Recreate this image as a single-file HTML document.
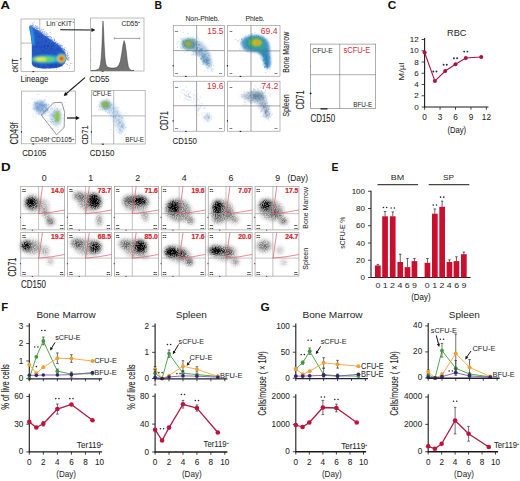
<!DOCTYPE html>
<html><head><meta charset="utf-8"><style>
html,body{margin:0;padding:0;background:#fff;width:520px;height:481px;overflow:hidden}
svg{display:block}
text{font-family:"Liberation Sans", sans-serif}
</style></head><body>
<svg width="520" height="481" viewBox="0 0 520 481">
<rect width="520" height="481" fill="#fff"/>
<defs>
<filter id="b03" x="-50%" y="-50%" width="200%" height="200%"><feGaussianBlur stdDeviation="0.3"/></filter>
<filter id="b05" x="-50%" y="-50%" width="200%" height="200%"><feGaussianBlur stdDeviation="0.5"/></filter>
<filter id="b08" x="-50%" y="-50%" width="200%" height="200%"><feGaussianBlur stdDeviation="0.8"/></filter>
<filter id="b1" x="-50%" y="-50%" width="200%" height="200%"><feGaussianBlur stdDeviation="1.0"/></filter>
<filter id="b15" x="-50%" y="-50%" width="200%" height="200%"><feGaussianBlur stdDeviation="1.5"/></filter>
<filter id="b2" x="-50%" y="-50%" width="200%" height="200%"><feGaussianBlur stdDeviation="2.0"/></filter>
<filter id="b3" x="-50%" y="-50%" width="200%" height="200%"><feGaussianBlur stdDeviation="3.0"/></filter>
<filter id="grain" x="0" y="0" width="520" height="481" filterUnits="userSpaceOnUse" color-interpolation-filters="sRGB">
 <feGaussianBlur in="SourceGraphic" stdDeviation="2.0" result="bl"/>
 <feTurbulence type="fractalNoise" baseFrequency="0.9" numOctaves="2" seed="4" result="n"/>
 <feColorMatrix in="n" type="matrix" values="0 0 0 0 0  0 0 0 0 0  0 0 0 0 0  2.0 0 0 0 -0.5" result="na"/>
 <feComposite in="bl" in2="na" operator="arithmetic" k1="1.0" k2="0.62" k3="0" k4="0"/>
</filter>
</defs>
<text x="0.43" y="9.30" font-size="11.12" fill="#111" textLength="9.53" lengthAdjust="spacingAndGlyphs" font-weight="bold" stroke="#111" stroke-width="0.05" >A</text>
<rect x="21.00" y="19.00" width="53.50" height="52.50" fill="none" stroke="#a0a0a0" stroke-width="0.7"/>
<line x1="39.80" y1="19.00" x2="39.80" y2="43.10" stroke="#8a8a8a" stroke-width="0.6" />
<line x1="21.00" y1="43.10" x2="32.00" y2="43.10" stroke="#8a8a8a" stroke-width="0.6" />
<clipPath id="a1c"><polygon points="29.7,25.4 33,27.4 36,29.3 38.5,30.6 43,34.3 47,37 50.8,39.7 55,42.5 58,44.6 61,47.5 63.5,50.5 65.3,53.6 66.3,57 66,60.5 64.5,63.5 62,66 58,67.8 50,68.6 42,68.4 36,67.4 33,66 31.8,64 31.8,44.3 30.6,35 29.2,28"/></clipPath>
<g filter="url(#b03)">
<polygon points="29.7,25.4 33,27.4 36,29.3 38.5,30.6 43,34.3 47,37 50.8,39.7 55,42.5 58,44.6 61,47.5 63.5,50.5 65.3,53.6 66.3,57 66,60.5 64.5,63.5 62,66 58,67.8 50,68.6 42,68.4 36,67.4 33,66 31.8,64 31.8,44.3 30.6,35 29.2,28" fill="#2758c8"/>
</g>
<path d="M30.0 26.7h0M31.7 26.7h0M32.0 26.2h0M32.7 26.7h0M30.9 25.3h0M33.8 22.2h0M31.6 28.5h0M30.5 25.2h0M32.5 25.4h0M31.7 27.7h0M33.2 24.6h0M32.3 25.5h0M32.3 23.4h0M31.7 25.6h0M33.1 25.2h0M32.1 28.3h0M31.4 25.5h0M32.2 28.2h0M33.1 26.4h0M34.0 27.2h0M35.1 30.5h0M34.5 27.1h0M34.2 28.9h0M35.4 27.5h0M35.8 26.8h0M35.3 29.9h0M36.8 27.0h0M33.6 27.6h0M37.3 26.3h0M34.5 28.8h0M35.6 28.0h0M36.3 26.1h0M35.4 25.6h0M36.7 28.1h0M33.7 26.9h0M32.9 28.6h0M37.0 29.1h0M34.9 31.6h0M38.7 27.9h0M37.3 28.9h0M39.1 28.7h0M38.5 30.5h0M37.7 27.9h0M36.6 28.3h0M35.9 30.7h0M37.0 28.3h0M36.6 28.4h0M38.1 31.1h0M37.9 31.2h0M37.9 28.8h0M40.6 33.9h0M40.8 33.4h0M42.0 35.0h0M41.9 33.1h0M39.0 32.2h0M43.4 29.5h0M42.1 31.3h0M41.4 32.4h0M37.8 31.6h0M38.1 31.6h0M40.2 34.3h0M40.6 31.3h0M41.9 33.0h0M38.8 30.8h0M42.4 32.1h0M40.6 32.2h0M41.0 33.0h0M40.9 30.6h0M39.7 32.5h0M40.0 32.3h0M43.3 31.8h0M42.2 32.9h0M40.4 31.2h0M41.3 29.3h0M38.3 32.6h0M39.7 30.1h0M39.3 32.6h0M42.1 30.2h0M42.9 33.1h0M46.4 34.9h0M46.2 37.2h0M43.8 34.1h0M45.8 34.7h0M47.8 34.4h0M43.6 34.9h0M47.1 33.7h0M46.2 36.6h0M44.7 34.3h0M46.2 36.3h0M45.6 34.1h0M43.4 37.4h0M44.7 33.1h0M44.7 31.8h0M46.6 37.5h0M46.6 32.7h0M43.5 35.5h0M46.7 35.2h0M44.3 36.9h0M44.0 35.3h0M43.9 33.5h0M45.2 36.1h0M44.7 32.1h0M46.2 37.4h0M48.9 41.6h0M50.5 39.3h0M49.9 38.9h0M47.5 37.7h0M50.3 36.6h0M49.8 36.4h0M48.1 38.3h0M48.7 36.6h0M49.4 39.9h0M48.8 37.2h0M51.2 37.6h0M48.3 36.6h0M48.5 41.4h0M51.4 37.4h0M50.5 39.0h0M47.3 37.0h0M49.8 37.3h0M47.4 39.8h0M47.4 36.4h0M47.7 36.5h0M47.7 36.5h0M51.1 39.1h0M48.8 38.5h0M52.0 40.8h0M54.3 40.3h0M53.1 41.6h0M52.7 39.8h0M50.3 41.5h0M52.1 41.1h0M51.6 39.2h0M54.2 40.1h0M53.2 43.2h0M54.5 39.8h0M52.1 41.6h0M54.6 40.4h0M52.4 41.1h0M51.2 41.4h0M53.1 41.1h0M52.5 41.1h0M54.1 38.7h0M51.3 42.4h0M54.9 41.7h0M52.3 41.6h0M51.9 39.1h0M53.6 43.5h0M53.7 42.6h0M52.2 42.7h0M51.3 39.8h0M55.6 42.6h0M57.8 43.4h0M55.6 42.3h0M57.9 44.0h0M57.9 43.8h0M56.2 41.6h0M56.7 45.4h0M56.8 46.1h0M54.6 43.3h0M56.2 45.7h0M55.4 42.6h0M57.7 43.5h0M56.0 43.1h0M57.1 43.0h0M55.2 43.4h0M54.9 44.2h0M55.5 44.4h0M55.7 43.9h0M60.0 45.0h0M55.8 47.3h0M59.4 45.6h0M61.2 45.7h0M61.7 45.3h0M59.1 47.5h0M60.0 46.4h0M61.2 46.7h0M60.8 46.2h0M59.9 48.1h0M60.3 46.6h0M58.7 45.0h0M60.6 45.4h0M59.3 45.1h0M62.6 45.6h0M58.8 45.5h0M59.8 47.9h0M59.9 46.2h0M59.0 43.8h0M59.2 46.2h0M62.6 48.0h0M62.1 48.2h0M63.1 50.8h0M61.4 49.6h0M62.6 50.4h0M62.1 50.7h0M62.6 49.8h0M62.0 51.1h0M64.7 49.3h0M62.5 48.6h0M63.8 48.8h0M65.0 47.6h0M61.3 48.5h0M61.7 47.9h0M63.7 48.8h0M64.0 49.3h0M62.9 50.3h0M60.5 49.5h0M62.3 46.9h0M64.4 50.3h0M63.5 52.0h0M64.7 52.2h0M64.2 51.5h0M63.7 52.2h0M64.9 52.1h0M64.3 54.0h0M64.9 50.2h0M64.0 51.4h0M64.8 53.4h0M67.8 51.8h0M66.1 50.6h0M65.2 52.7h0M64.0 53.0h0M65.3 52.2h0M64.2 53.2h0M64.8 53.7h0M64.2 54.3h0M64.8 55.6h0M68.0 55.3h0M67.0 55.2h0M68.0 55.1h0M67.3 53.7h0M64.5 54.3h0M67.3 56.5h0M67.2 55.7h0M64.4 56.1h0M65.4 55.3h0M66.1 54.5h0M66.8 55.8h0M64.2 56.7h0M65.4 54.9h0M63.8 55.0h0M67.5 53.1h0M66.5 58.8h0M68.9 58.5h0M65.1 58.1h0M67.4 59.8h0M66.9 58.3h0M66.0 57.9h0M68.4 57.5h0M68.0 59.7h0M67.1 57.7h0M67.7 59.7h0M66.3 59.9h0M64.7 57.4h0M67.1 58.5h0M68.0 59.2h0M66.5 57.7h0M69.0 57.3h0M69.0 60.1h0" stroke="#3f70d0" stroke-opacity="0.5" stroke-width="0.9" stroke-linecap="square" fill="none"/>
<path d="M40.2 64.8h0M58.0 62.9h0M39.4 63.9h0M53.8 66.4h0M40.3 61.2h0M55.6 65.0h0M62.3 66.2h0M49.2 63.4h0M70.6 63.4h0M43.7 61.5h0M50.8 64.3h0M47.2 63.9h0M52.2 65.5h0M58.8 64.5h0M35.7 65.5h0M38.6 63.6h0M38.2 64.0h0M43.8 64.5h0M56.7 61.1h0M47.7 65.5h0M49.3 64.8h0M50.8 61.8h0M54.5 62.2h0M65.0 62.9h0M55.5 64.0h0M57.6 62.7h0M58.0 63.7h0M60.1 65.4h0M51.1 62.3h0M56.1 65.0h0M63.1 63.2h0M54.4 65.1h0M52.3 64.5h0M51.5 62.7h0M41.9 63.1h0M54.7 67.3h0M57.8 66.3h0M56.2 65.5h0M51.5 65.7h0M64.2 63.3h0M44.4 68.3h0M52.0 66.1h0M57.0 61.5h0M69.5 67.9h0M51.4 65.7h0M51.0 62.1h0M49.1 64.8h0M58.9 65.6h0M50.5 67.0h0M43.9 65.7h0M58.9 63.4h0M35.7 62.0h0M51.9 65.2h0M62.4 61.8h0M50.0 65.4h0M48.7 58.8h0M56.5 69.1h0M58.0 62.0h0M46.7 64.5h0M69.9 65.4h0M50.9 67.4h0M49.3 68.1h0M44.5 63.0h0M55.8 67.1h0M55.2 64.7h0M35.4 62.4h0M45.1 62.8h0M54.7 63.3h0M56.3 64.2h0M47.3 64.3h0M53.4 65.9h0M46.2 63.5h0M39.1 67.5h0M61.6 63.6h0M46.2 61.3h0M51.4 64.5h0M67.5 64.5h0M43.8 58.6h0M61.3 64.4h0M37.1 64.4h0M59.0 65.3h0M48.6 59.3h0M49.0 60.6h0M54.8 59.3h0M42.7 66.7h0M63.2 61.4h0M37.7 65.9h0M56.8 61.8h0M44.4 62.5h0M40.5 62.5h0M60.0 65.5h0M66.5 63.8h0M48.9 61.8h0M49.0 61.1h0M35.8 65.5h0M61.5 65.8h0M60.7 64.6h0M44.3 64.2h0M47.0 61.6h0M36.5 60.7h0M50.0 64.3h0M46.2 67.1h0M51.4 65.3h0M59.7 62.2h0M34.2 65.7h0M44.5 66.9h0M52.7 66.2h0M56.1 59.4h0M55.8 62.5h0M44.0 63.0h0M56.1 65.9h0M58.1 60.3h0M45.3 58.8h0M49.2 65.3h0M43.9 64.5h0M51.9 66.2h0M43.4 62.2h0M43.9 67.9h0M58.7 63.7h0M51.8 64.3h0M51.6 63.5h0M47.3 61.2h0M44.9 67.6h0M54.3 64.1h0M48.3 64.1h0M52.8 62.6h0M51.6 64.5h0M44.0 62.3h0M42.0 61.7h0M57.1 58.8h0M47.9 62.7h0M45.0 64.2h0M59.0 64.2h0M48.9 62.7h0M49.0 66.0h0M46.8 61.5h0M39.9 61.6h0M38.9 66.4h0M52.8 63.5h0M61.7 62.6h0M56.0 65.8h0M37.6 60.6h0M42.6 66.0h0M60.4 61.3h0M58.4 63.2h0M46.9 62.8h0M47.4 60.0h0M42.0 61.3h0M53.9 68.6h0M71.9 63.3h0M36.2 63.1h0M42.5 68.4h0M54.6 62.4h0M57.5 65.2h0M37.0 62.8h0M48.1 64.0h0M51.1 63.3h0M51.5 62.7h0M37.5 57.1h0M43.8 50.6h0M34.0 47.0h0M46.1 40.3h0M47.5 45.7h0M44.0 47.2h0M43.1 55.2h0M40.0 57.4h0M38.1 42.4h0M45.6 41.6h0M40.1 53.4h0M48.1 37.4h0M44.5 59.3h0M48.0 46.6h0M39.0 46.2h0M36.2 46.4h0M41.1 47.1h0M47.9 46.6h0M34.7 54.3h0M36.6 45.3h0M41.3 45.9h0M37.0 46.5h0M52.9 44.4h0M41.3 54.7h0M45.7 52.6h0M46.3 36.2h0M37.7 48.8h0M44.5 55.8h0M44.3 46.6h0M42.2 46.7h0M43.2 52.0h0M40.3 43.1h0M37.7 54.6h0M48.4 54.0h0M46.3 53.0h0M42.0 52.0h0M36.7 46.8h0M38.3 52.4h0M39.1 47.4h0M44.0 56.1h0M38.0 42.4h0M46.1 41.4h0M44.3 44.6h0M41.5 37.1h0M45.6 45.0h0M37.5 60.5h0M45.6 69.1h0M44.0 45.9h0M42.5 57.6h0M41.9 50.7h0M44.6 42.5h0M42.6 45.0h0M35.8 53.2h0M45.3 48.4h0M37.5 36.0h0M44.4 47.4h0M33.6 47.6h0M34.4 47.8h0M42.7 50.1h0M43.1 49.0h0M36.3 45.7h0M39.4 46.6h0M43.4 51.7h0M50.2 32.6h0M44.0 46.8h0M53.4 53.6h0M33.7 50.4h0M39.4 54.0h0M36.7 47.4h0M41.3 47.4h0M39.1 37.0h0M44.3 54.0h0M41.7 41.9h0M43.0 51.4h0M41.1 47.9h0M49.0 41.3h0M39.2 36.6h0M38.5 43.6h0M37.2 43.8h0M51.0 46.8h0M51.4 58.8h0M51.7 43.1h0M54.0 46.3h0M60.2 45.0h0M49.1 43.6h0M52.5 45.9h0M51.7 48.5h0M48.9 53.8h0M56.7 50.2h0M47.5 45.7h0M53.3 59.6h0M49.7 46.9h0M48.5 45.6h0M47.1 49.2h0M59.2 50.0h0M49.4 43.5h0M53.1 49.9h0M45.9 45.7h0M51.8 54.0h0M55.1 50.8h0M50.4 51.3h0M51.9 58.7h0M46.3 48.5h0M58.3 48.9h0M59.1 49.8h0M52.7 48.5h0M45.1 46.1h0M63.1 52.6h0M55.0 53.8h0M54.8 54.1h0M50.7 49.1h0M56.9 48.6h0M45.3 49.1h0M49.3 52.5h0M48.4 45.8h0M50.3 56.2h0M51.8 50.6h0M52.0 51.2h0M56.6 55.6h0M43.8 55.4h0M52.0 48.7h0M64.0 49.3h0M61.7 53.9h0M46.9 52.0h0M55.7 49.5h0M40.4 48.6h0M51.0 45.6h0M61.1 49.0h0M50.0 48.8h0M48.1 46.9h0M52.5 51.3h0M49.5 49.6h0M45.0 52.1h0M48.3 50.9h0M47.5 47.9h0M53.1 45.2h0M64.3 49.9h0M51.6 47.1h0M60.0 55.5h0M53.5 44.5h0" stroke="#1a3890" stroke-opacity="0.35" stroke-width="0.9" stroke-linecap="square" fill="none"/>
<g clip-path="url(#a1c)"><g filter="url(#b1)">
<polygon points="29.7,25.4 32,27 33.8,36 34.4,45 32,45 30.8,35" fill="#2aa8e2"/>
<ellipse cx="46.00" cy="59.20" rx="15.00" ry="4.20" fill="#22b2e2" fill-opacity="1"/>
<ellipse cx="43.50" cy="59.20" rx="11.50" ry="2.80" fill="#74d24e" fill-opacity="1"/>
<ellipse cx="41.00" cy="59.20" rx="5.50" ry="1.70" fill="#f4f030" fill-opacity="1"/>
<ellipse cx="61.50" cy="58.60" rx="5.20" ry="5.00" fill="#3cc4c4" fill-opacity="1"/>
<ellipse cx="61.50" cy="58.60" rx="3.80" ry="3.70" fill="#e8e41e" fill-opacity="1"/>
<ellipse cx="61.50" cy="58.60" rx="2.80" ry="2.80" fill="#f08a10" fill-opacity="1"/>
<ellipse cx="61.50" cy="58.60" rx="1.80" ry="1.80" fill="#e01010" fill-opacity="1"/>
</g></g>
<line x1="20.80" y1="58.20" x2="20.80" y2="59.60" stroke="#111" stroke-width="1.0" />
<line x1="32.50" y1="71.70" x2="34.20" y2="71.70" stroke="#111" stroke-width="1.0" />
<text x="46.17" y="25.50" font-size="7.19" fill="#1e1e1e" textLength="28.26" lengthAdjust="spacingAndGlyphs" stroke="#1e1e1e" stroke-width="0.00" >Lin<tspan font-size="4" dy="-2.6">−</tspan><tspan dy="2.6">cKIT</tspan><tspan font-size="4" dy="-2.6">+</tspan></text>
<line x1="60.20" y1="29.70" x2="92.00" y2="29.97" stroke="#111" stroke-width="1.1" />
<polygon points="95.30,30.00 91.48,31.97 91.52,27.97" fill="#111"/>
<line x1="101.60" y1="71.30" x2="103.60" y2="71.30" stroke="#111" stroke-width="1.0" />
<text x="17.90" y="72.50" font-size="9.96" fill="#1e1e1e" textLength="13.99" lengthAdjust="spacingAndGlyphs" transform="rotate(-90 17.90 72.50)" stroke="#1e1e1e" stroke-width="0.13">cKIT</text>
<text x="20.54" y="81.50" font-size="9.38" fill="#1e1e1e" textLength="27.82" lengthAdjust="spacingAndGlyphs" stroke="#1e1e1e" stroke-width="0.07" >Lineage</text>
<rect x="90.50" y="18.00" width="53.50" height="53.00" fill="none" stroke="#a0a0a0" stroke-width="0.7"/>
<polygon points="91,70.6 95,70.4 98,69.6 99.5,68 100.5,64 101.3,57 102,45 102.5,30 103,21 103.6,30 104.2,45 104.9,57 105.6,63 106.5,66 108,67.3 111,68 114,68 116.5,67.4 118.5,65.8 120.3,61.5 121.7,54 123,45 124.1,40.6 125.2,44 126.3,52 127.3,61 128.3,66.5 129.5,69.2 131.5,70.4 134,70.6" fill="#727272" stroke="#3a3a3a" stroke-width="0.5"/>
<line x1="90.50" y1="30.50" x2="91.60" y2="30.50" stroke="#999" stroke-width="0.5" />
<line x1="90.50" y1="38.50" x2="91.60" y2="38.50" stroke="#999" stroke-width="0.5" />
<line x1="90.50" y1="49.00" x2="91.60" y2="49.00" stroke="#999" stroke-width="0.5" />
<line x1="90.50" y1="60.00" x2="91.60" y2="60.00" stroke="#999" stroke-width="0.5" />
<line x1="114.20" y1="38.40" x2="139.70" y2="38.40" stroke="#777" stroke-width="0.7" />
<line x1="114.20" y1="37.30" x2="114.20" y2="39.50" stroke="#777" stroke-width="0.6" />
<line x1="139.70" y1="37.30" x2="139.70" y2="39.50" stroke="#777" stroke-width="0.6" />
<text x="121.57" y="25.70" font-size="7.19" fill="#1e1e1e" textLength="18.56" lengthAdjust="spacingAndGlyphs" stroke="#1e1e1e" stroke-width="0.04" >CD55<tspan font-size="4" dy="-2.6">+</tspan></text>
<text x="89.25" y="81.60" font-size="9.08" fill="#1e1e1e" textLength="20.29" lengthAdjust="spacingAndGlyphs" stroke="#1e1e1e" stroke-width="0.05" >CD55</text>
<line x1="85.00" y1="77.60" x2="66.11" y2="93.76" stroke="#111" stroke-width="1.1" />
<polygon points="63.60,95.90 65.19,91.91 67.79,94.95" fill="#111"/>
<rect x="21.60" y="91.10" width="53.90" height="52.70" fill="none" stroke="#a0a0a0" stroke-width="0.7"/>
<g filter="url(#b15)">
<ellipse cx="41.00" cy="107.50" rx="8.00" ry="6.50" fill="#8ab0da" fill-opacity="0.7" transform="rotate(30 41.00 107.50)"/>
<ellipse cx="40.00" cy="106.00" rx="4.50" ry="4.00" fill="#6a98d0" fill-opacity="0.5"/>
<ellipse cx="56.00" cy="117.00" rx="6.00" ry="9.00" fill="#98bce0" fill-opacity="0.5"/>
</g>
<path d="M37.6 108.4h0M41.2 102.1h0M37.4 101.9h0M42.4 105.3h0M35.5 117.2h0M50.8 108.3h0M42.3 108.7h0M38.3 110.8h0M40.2 105.5h0M39.6 106.2h0M45.0 113.4h0M36.1 102.6h0M35.9 108.3h0M40.2 111.1h0M44.5 100.7h0M42.5 109.4h0M45.8 104.3h0M42.7 105.3h0M37.3 107.0h0M44.3 105.3h0M38.5 94.6h0M36.3 109.9h0M45.3 99.6h0M36.4 106.8h0M45.9 115.7h0M42.2 109.1h0M37.3 103.3h0M41.1 104.0h0M42.1 106.3h0M39.6 113.3h0M43.4 110.8h0M43.0 101.6h0M39.4 109.1h0M34.1 109.3h0M38.8 108.0h0M42.1 102.3h0M52.3 108.6h0M46.1 107.9h0M43.8 105.4h0M37.4 109.6h0M51.1 109.4h0M39.1 110.8h0M36.8 108.4h0M36.4 107.6h0M40.5 112.8h0M45.0 104.3h0M46.1 105.3h0M41.2 114.6h0M44.7 107.1h0M45.8 111.1h0M36.3 103.2h0M47.8 110.0h0M42.2 106.6h0M34.7 101.5h0M42.1 109.1h0M44.5 99.7h0M44.9 113.0h0M42.8 114.6h0M40.3 104.3h0M39.0 114.1h0M34.2 102.5h0M36.8 107.6h0M47.9 110.1h0M35.5 104.6h0M42.9 101.4h0M45.9 107.9h0M46.6 104.7h0M48.6 105.2h0M49.2 103.9h0M47.7 109.7h0M34.7 102.8h0M44.4 104.9h0M38.3 107.2h0M46.4 96.5h0M38.3 107.9h0M40.3 111.7h0M32.9 114.6h0M43.8 110.6h0M43.8 113.5h0M42.7 105.6h0M44.6 111.5h0M35.0 98.9h0M42.8 109.0h0M40.9 110.4h0M38.5 113.3h0M39.2 104.6h0M40.9 110.9h0M41.4 114.6h0M36.6 110.4h0M45.1 105.1h0M36.2 114.4h0M45.3 107.8h0M32.1 99.0h0M37.8 106.0h0M49.5 115.9h0M44.2 105.0h0M36.3 103.8h0M33.0 116.7h0M40.5 104.4h0M45.7 110.6h0M33.1 108.9h0M42.3 102.1h0M41.4 110.0h0M38.1 109.1h0M46.3 106.5h0M36.9 94.1h0M38.0 111.4h0M42.6 114.8h0M49.0 112.2h0M48.6 104.8h0M43.2 110.6h0M41.5 105.7h0M35.9 105.2h0M47.3 109.4h0M44.6 106.5h0M44.1 104.6h0M43.1 107.7h0M43.6 106.2h0M36.6 103.4h0M42.3 115.6h0M38.0 109.5h0M43.5 110.8h0M33.6 104.7h0M34.4 109.2h0M43.2 111.6h0M28.8 103.3h0M46.6 104.8h0M45.0 110.2h0M41.6 104.6h0M37.5 103.5h0M54.0 115.9h0M43.2 105.8h0M39.4 104.0h0M35.4 108.3h0M38.1 109.8h0M34.1 107.8h0M39.5 109.7h0M42.3 104.2h0M47.1 109.0h0M42.1 104.1h0M42.7 106.7h0M41.5 109.4h0M40.8 100.9h0M41.0 111.8h0M46.3 105.3h0M42.9 110.3h0M41.4 109.7h0M39.2 107.4h0M46.0 108.1h0M35.0 103.5h0M55.8 104.9h0M52.3 119.5h0M54.4 116.6h0M50.0 121.4h0M62.0 114.8h0M52.1 109.1h0M58.6 116.6h0M51.8 123.3h0M58.1 119.6h0M48.0 115.4h0M57.5 108.7h0M58.7 124.6h0M59.1 111.7h0M52.2 121.7h0M59.0 123.4h0M59.8 115.4h0M53.4 104.9h0M58.1 129.7h0M53.1 113.1h0M57.6 118.2h0M49.5 111.7h0M50.6 128.1h0M52.1 121.1h0M62.7 127.4h0M60.7 125.8h0M50.1 113.9h0M52.1 114.3h0M65.5 105.9h0M57.2 108.6h0M60.4 123.8h0M53.0 128.4h0M55.3 123.8h0M56.2 112.6h0M53.5 115.3h0M57.5 116.8h0M64.4 114.8h0M53.1 111.7h0M51.9 107.4h0M51.1 121.4h0M55.2 115.0h0M56.4 122.4h0M57.5 120.6h0M52.8 114.4h0M51.9 115.4h0M51.7 113.8h0M54.3 114.7h0M53.9 113.0h0M60.2 113.9h0M51.0 117.2h0M50.6 109.6h0M55.3 106.0h0M42.1 117.7h0M59.1 106.0h0M51.4 119.5h0M47.1 110.8h0M50.2 114.8h0M47.1 121.4h0M54.4 117.8h0M53.7 103.3h0M54.4 108.0h0M55.0 110.9h0M53.7 114.7h0M58.1 120.6h0M51.0 115.9h0M60.8 119.0h0M52.1 115.3h0M53.6 121.6h0M55.1 118.3h0M63.8 107.7h0M50.9 105.6h0M48.6 121.1h0M56.2 125.8h0M47.1 110.7h0M60.8 122.2h0M58.5 121.2h0M55.1 115.9h0M55.1 121.1h0M54.3 117.9h0M60.8 109.2h0M52.0 119.4h0M53.9 115.1h0M63.4 118.5h0M53.3 122.6h0M65.1 109.3h0M52.3 116.7h0M52.5 129.0h0M57.1 113.6h0M57.0 111.2h0M52.6 116.6h0M64.6 102.5h0M56.7 124.1h0M58.0 127.5h0M56.8 116.9h0M54.5 110.9h0M61.5 108.9h0M54.5 112.9h0M51.9 102.7h0M53.5 116.8h0M55.6 121.1h0M54.4 112.2h0M56.2 120.0h0M51.4 106.9h0M50.9 122.3h0M59.0 110.7h0M55.4 121.0h0M60.3 112.0h0M54.0 124.5h0M64.6 125.2h0M50.4 118.7h0M53.8 115.6h0" stroke="#5a88c4" stroke-opacity="0.32" stroke-width="0.8" stroke-linecap="square" fill="none"/>
<g filter="url(#b08)">
<ellipse cx="57.30" cy="116.60" rx="2.80" ry="5.80" fill="#70b060" fill-opacity="0.7"/>
<ellipse cx="57.30" cy="116.60" rx="2.20" ry="4.80" fill="#80bc40" fill-opacity="0.9"/>
<ellipse cx="57.50" cy="116.00" rx="1.10" ry="3.00" fill="#a8cc30" fill-opacity="0.85"/>
</g>
<polygon points="41.3,115.1 53.7,102.7 61.7,102.3 64.6,112.2 64.1,127.5 56.6,134.8" fill="none" stroke="#555" stroke-width="0.6"/>
<text x="30.19" y="142.30" font-size="6.90" fill="#1e1e1e" textLength="44.03" lengthAdjust="spacingAndGlyphs" stroke="#1e1e1e" stroke-width="0.01" >CD49f<tspan font-size="4" dy="-2.6">−</tspan><tspan dy="2.6">CD105</tspan><tspan font-size="4" dy="-2.6">+</tspan></text>
<text x="18.40" y="144.42" font-size="10.39" fill="#1e1e1e" textLength="22.05" lengthAdjust="spacingAndGlyphs" transform="rotate(-90 18.40 144.42)" stroke="#1e1e1e" stroke-width="0.10">CD49f</text>
<text x="22.21" y="156.20" font-size="9.81" fill="#1e1e1e" textLength="24.18" lengthAdjust="spacingAndGlyphs" stroke="#1e1e1e" stroke-width="0.08" >CD105</text>
<line x1="67.00" y1="118.00" x2="76.50" y2="118.00" stroke="#111" stroke-width="1.2" />
<polygon points="79.80,118.00 76.00,120.00 76.00,116.00" fill="#111"/>
<line x1="21.40" y1="131.20" x2="21.40" y2="132.60" stroke="#111" stroke-width="1.0" />
<line x1="32.40" y1="144.00" x2="34.20" y2="144.00" stroke="#111" stroke-width="1.0" />
<rect x="91.60" y="90.60" width="53.60" height="53.40" fill="none" stroke="#a0a0a0" stroke-width="0.7"/>
<line x1="113.70" y1="90.60" x2="113.70" y2="144.00" stroke="#8a8a8a" stroke-width="0.6" />
<line x1="91.60" y1="115.90" x2="145.20" y2="115.90" stroke="#8a8a8a" stroke-width="0.6" />
<g filter="url(#b15)">
<ellipse cx="106.00" cy="105.00" rx="6.00" ry="5.00" fill="#8ab0da" fill-opacity="0.6"/>
<polygon points="104,100 114,104 123,116 126,128 121,134 116,128 110,114 102,108" fill="#a0c0e0" fill-opacity="0.45"/>
</g>
<path d="M103.3 103.3h0M106.0 111.3h0M108.8 106.5h0M106.1 102.4h0M105.1 109.3h0M109.3 111.9h0M107.0 104.9h0M99.5 106.4h0M99.1 110.3h0M103.5 105.0h0M100.6 103.3h0M102.3 109.0h0M107.0 100.9h0M98.3 104.8h0M104.1 101.1h0M108.4 104.4h0M106.4 102.9h0M103.7 103.4h0M99.6 107.2h0M107.6 99.0h0M106.4 109.0h0M106.9 109.5h0M104.9 105.0h0M100.8 101.8h0M98.7 101.9h0M107.0 106.8h0M110.7 105.5h0M102.0 106.5h0M105.4 111.2h0M113.8 108.4h0M101.5 103.2h0M106.8 102.5h0M108.1 107.4h0M109.4 105.8h0M102.5 102.1h0M105.5 109.6h0M112.3 108.4h0M107.5 107.4h0M109.3 109.5h0M109.4 99.6h0M109.8 106.3h0M104.2 106.8h0M107.2 104.8h0M99.2 105.4h0M108.2 104.8h0M99.6 106.6h0M108.9 105.6h0M107.7 103.8h0M103.4 106.8h0M104.6 105.6h0M119.0 107.5h0M106.5 99.3h0M106.4 107.7h0M103.2 104.2h0M97.0 106.9h0M103.6 107.4h0M111.5 104.4h0M109.9 105.9h0M105.2 104.0h0M102.6 109.5h0M109.5 101.5h0M109.4 102.4h0M100.0 109.2h0M100.9 109.1h0M106.8 108.2h0M108.0 109.0h0M107.4 107.0h0M107.0 108.8h0M104.4 108.6h0M112.0 104.8h0M107.8 103.2h0M104.8 105.9h0M104.6 101.9h0M105.9 105.7h0M107.3 107.5h0M98.9 109.9h0M105.3 102.3h0M104.5 106.5h0M109.5 103.7h0M106.6 99.4h0M106.7 104.6h0M104.3 108.1h0M113.2 108.6h0M102.9 110.3h0M104.7 104.9h0M103.7 106.6h0M108.2 105.5h0M105.2 104.5h0M104.4 108.4h0M103.9 104.5h0M111.3 110.3h0M109.2 107.4h0M116.6 114.5h0M117.7 119.9h0M113.6 116.7h0M113.6 110.0h0M116.0 117.1h0M115.0 114.0h0M118.0 111.5h0M107.8 112.9h0M115.7 111.0h0M105.7 106.8h0M119.1 118.6h0M104.7 106.3h0M113.7 109.9h0M112.4 112.2h0M113.1 116.3h0M117.3 112.9h0M115.6 118.2h0M115.4 115.6h0M113.6 117.3h0M119.5 117.0h0M115.3 114.8h0M115.1 117.6h0M119.0 116.1h0M109.6 108.7h0M113.2 112.3h0M113.9 116.7h0M117.4 113.0h0M117.8 112.7h0M110.0 112.3h0M115.1 116.4h0M116.6 112.0h0M114.1 107.9h0M118.0 119.3h0M118.1 116.5h0M104.7 109.5h0M114.8 118.5h0M116.2 107.7h0M108.8 110.6h0M113.4 116.8h0M118.6 121.1h0M113.8 109.0h0M114.1 112.0h0M118.5 115.3h0M115.7 117.2h0M115.2 111.7h0M116.6 115.3h0M111.3 110.8h0M117.1 110.9h0M113.9 115.9h0M110.6 115.7h0M109.5 113.6h0M107.7 113.1h0M115.7 110.8h0M116.0 122.1h0M116.7 120.0h0M108.6 108.0h0M117.3 108.2h0M119.2 116.5h0M111.1 115.5h0M114.3 116.4h0M110.4 108.0h0M116.3 116.0h0M114.9 115.8h0M112.6 113.7h0M115.3 113.0h0M119.8 114.7h0M118.1 114.5h0M111.1 108.1h0M125.6 133.9h0M121.5 124.7h0M121.9 131.9h0M121.0 121.1h0M119.9 122.4h0M119.7 121.8h0M119.8 133.6h0M122.7 117.7h0M117.8 124.4h0M118.7 119.6h0M122.2 117.8h0M123.6 129.0h0M119.4 123.1h0M121.3 126.7h0M113.9 121.1h0M122.5 125.2h0M119.0 121.5h0M118.3 122.7h0M128.0 118.6h0M125.9 127.6h0M121.8 126.9h0M121.3 134.0h0M122.5 125.6h0M120.8 127.1h0M117.5 125.1h0M119.8 129.3h0M121.2 116.8h0M121.2 130.9h0M116.3 121.0h0M123.8 124.9h0M118.7 120.4h0M121.1 123.3h0M122.0 128.0h0M122.8 124.1h0M119.5 126.4h0M120.9 126.9h0M119.3 125.2h0M118.8 123.5h0M122.5 131.5h0M120.0 129.1h0M122.1 126.4h0M122.5 123.0h0M122.9 127.2h0M111.2 129.5h0M124.4 135.1h0M118.0 127.0h0M121.2 121.2h0M124.9 127.6h0M117.7 120.7h0M121.8 137.7h0M125.2 113.0h0M116.3 130.2h0M120.2 123.0h0M122.9 126.2h0M122.1 127.2h0M119.0 132.9h0M120.7 131.7h0M123.1 125.9h0M121.4 125.7h0M115.4 125.4h0M120.9 118.0h0M117.6 132.0h0M122.1 118.2h0M122.3 125.6h0M123.6 124.0h0M119.7 122.5h0M121.4 125.3h0M118.8 124.7h0M119.4 129.4h0M116.7 119.0h0M119.2 131.8h0M120.1 129.4h0M122.7 123.2h0M123.7 128.1h0M120.3 122.6h0M119.8 119.8h0M119.7 123.4h0M122.6 127.5h0M119.9 130.5h0M124.5 125.7h0" stroke="#5a88c4" stroke-opacity="0.3" stroke-width="0.8" stroke-linecap="square" fill="none"/>
<g filter="url(#b08)">
<ellipse cx="105.30" cy="104.60" rx="4.20" ry="3.60" fill="#6aa860" fill-opacity="0.7"/>
<ellipse cx="105.30" cy="104.40" rx="3.00" ry="2.60" fill="#86b040" fill-opacity="0.9"/>
<ellipse cx="104.80" cy="104.20" rx="1.50" ry="1.40" fill="#a8b838" fill-opacity="0.8"/>
</g>
<text x="92.41" y="96.30" font-size="6.47" fill="#1e1e1e" textLength="18.88" lengthAdjust="spacingAndGlyphs" stroke="#1e1e1e" stroke-width="0.02" >CFU-E</text>
<line x1="91.40" y1="131.20" x2="91.40" y2="132.60" stroke="#111" stroke-width="1.0" />
<line x1="101.80" y1="144.20" x2="103.80" y2="144.20" stroke="#111" stroke-width="1.0" />
<text x="125.21" y="142.10" font-size="6.47" fill="#1e1e1e" textLength="18.78" lengthAdjust="spacingAndGlyphs" stroke="#1e1e1e" stroke-width="0.01" >BFU-E</text>
<text x="87.60" y="144.58" font-size="9.67" fill="#1e1e1e" textLength="19.16" lengthAdjust="spacingAndGlyphs" transform="rotate(-90 87.60 144.58)" stroke="#1e1e1e" stroke-width="0.09">CD71</text>
<text x="89.81" y="156.10" font-size="9.81" fill="#1e1e1e" textLength="24.48" lengthAdjust="spacingAndGlyphs" stroke="#1e1e1e" stroke-width="0.08" >CD150</text>
<text x="154.52" y="9.30" font-size="11.41" fill="#111" textLength="7.57" lengthAdjust="spacingAndGlyphs" font-weight="bold" stroke="#111" stroke-width="0.05" >B</text>
<text x="185.44" y="21.30" font-size="7.63" fill="#1e1e1e" textLength="34.02" lengthAdjust="spacingAndGlyphs" stroke="#1e1e1e" stroke-width="0.04" >Non-Phleb.</text>
<text x="245.54" y="21.30" font-size="7.63" fill="#1e1e1e" textLength="18.92" lengthAdjust="spacingAndGlyphs" stroke="#1e1e1e" stroke-width="0.05" >Phleb.</text>
<g filter="url(#b15)">
<polygon points="181,42 185,38.5 192,38 198,41 203,44 207,48 210,54 212,61 211,66 208,67 205,63 201,57 196,52 190,50 183,48" fill="#6f9cc6" fill-opacity="0.55"/>
<ellipse cx="189.00" cy="44.00" rx="7.50" ry="5.50" fill="#4c9caa" fill-opacity="0.8"/>
<ellipse cx="205.00" cy="60.00" rx="3.00" ry="6.00" fill="#5a94b0" fill-opacity="0.5" transform="rotate(-30 205.00 60.00)"/>
</g>
<path d="M185.4 45.8h0M177.0 42.0h0M191.9 50.9h0M185.4 49.3h0M200.5 50.5h0M177.4 47.8h0M190.0 47.5h0M188.1 41.9h0M187.9 49.2h0M193.2 43.0h0M190.9 47.0h0M191.8 43.9h0M185.8 41.4h0M186.9 42.1h0M181.2 39.1h0M193.4 40.1h0M182.5 43.9h0M196.2 48.4h0M187.0 40.4h0M186.4 40.9h0M186.3 45.7h0M183.7 41.3h0M187.7 43.9h0M185.2 41.3h0M183.4 41.4h0M191.6 43.2h0M188.7 41.0h0M187.7 33.5h0M180.8 48.1h0M199.6 51.6h0M185.4 44.1h0M192.9 39.7h0M197.7 41.5h0M190.8 40.0h0M190.8 43.9h0M194.4 40.0h0M189.0 50.4h0M183.1 45.2h0M191.2 42.3h0M187.7 48.9h0M194.7 46.0h0M190.3 40.0h0M189.5 50.3h0M194.3 39.3h0M178.7 41.7h0M189.8 42.1h0M187.5 45.2h0M193.5 44.7h0M195.3 39.0h0M191.3 45.5h0M181.6 48.4h0M181.0 38.9h0M202.4 48.5h0M190.9 48.7h0M194.8 40.0h0M191.4 48.9h0M188.2 44.3h0M186.7 46.6h0M186.2 41.9h0M182.9 40.7h0M190.1 45.7h0M187.1 40.3h0M190.7 45.3h0M195.4 42.3h0M186.9 45.8h0M196.7 43.8h0M188.6 40.7h0M187.1 47.3h0M193.3 47.9h0M180.8 47.0h0M184.4 46.1h0M177.1 43.7h0M184.6 48.5h0M189.6 48.6h0M186.8 50.9h0M186.8 50.7h0M186.6 40.5h0M193.5 42.6h0M188.7 39.3h0M187.3 44.4h0M185.4 45.4h0M177.4 47.2h0M186.9 49.2h0M187.2 41.7h0M186.7 45.0h0M192.0 42.4h0M185.0 45.5h0M193.2 37.8h0M183.7 41.6h0M197.6 48.4h0M193.0 45.8h0M183.4 48.0h0M186.8 41.2h0M198.8 38.9h0M196.0 44.7h0M184.4 44.6h0M184.7 44.7h0M185.7 39.8h0M202.5 42.2h0M194.0 43.8h0M192.4 39.5h0M183.7 32.4h0M194.1 45.6h0M183.1 47.0h0M192.0 54.4h0M190.2 47.3h0M192.1 46.7h0M188.9 42.5h0M192.6 48.4h0M183.1 40.0h0M188.8 50.4h0M188.0 38.0h0M193.1 46.7h0M198.9 44.7h0M199.0 41.5h0M193.6 44.5h0M183.0 43.0h0M195.8 48.0h0M187.1 47.9h0M193.6 47.2h0M190.5 45.1h0M184.8 43.8h0M189.6 41.4h0M187.6 44.6h0M190.1 47.8h0M183.8 42.6h0M190.4 42.7h0M190.7 42.4h0M195.0 43.2h0M183.3 46.7h0M197.4 37.2h0M188.4 44.3h0M194.3 49.3h0M188.2 38.5h0M192.4 47.6h0M191.4 44.3h0M184.9 52.7h0M183.0 38.7h0M194.0 45.0h0M200.4 54.6h0M201.5 59.7h0M195.3 52.9h0M198.7 45.0h0M203.6 54.2h0M192.4 46.4h0M196.0 51.5h0M200.3 50.1h0M195.3 52.0h0M195.9 49.9h0M195.1 50.5h0M203.4 58.0h0M201.6 56.0h0M196.6 48.8h0M198.4 53.2h0M195.9 51.9h0M196.7 50.3h0M201.2 49.3h0M202.0 54.8h0M199.4 52.2h0M195.2 43.3h0M194.3 52.0h0M196.0 51.9h0M197.5 47.4h0M195.5 53.3h0M194.2 47.3h0M200.0 53.4h0M197.4 53.8h0M201.9 50.4h0M202.5 51.9h0M195.1 54.5h0M203.7 61.7h0M201.8 51.3h0M193.4 53.9h0M202.7 49.7h0M202.7 57.5h0M202.3 56.4h0M193.8 44.7h0M198.9 51.3h0M205.0 54.4h0M198.8 51.6h0M200.7 49.4h0M200.2 42.9h0M200.4 52.4h0M201.7 50.1h0M200.9 49.8h0M195.2 50.2h0M199.8 55.0h0M199.6 51.0h0M200.9 58.5h0M199.2 47.9h0M199.5 53.7h0M191.8 54.9h0M194.2 44.7h0M197.8 55.0h0M194.1 46.2h0M200.7 59.0h0M198.2 51.5h0M195.5 50.6h0M199.7 44.6h0M194.2 48.2h0M192.8 51.2h0M201.0 57.7h0M198.8 56.4h0M198.1 54.7h0M198.9 55.1h0M197.2 47.9h0M194.3 51.4h0M202.1 51.5h0M197.1 48.1h0M201.9 54.0h0M199.6 49.8h0M195.5 55.4h0M197.6 49.4h0M202.8 58.1h0M193.4 51.6h0M194.0 50.1h0M193.1 43.2h0M203.0 53.0h0M196.7 50.3h0M199.9 51.0h0M193.4 54.4h0M203.0 56.7h0M196.5 47.8h0M197.2 52.4h0M205.0 55.0h0M200.3 51.4h0M200.8 50.8h0M197.9 55.7h0M198.4 50.3h0M201.9 49.3h0M207.2 53.6h0M199.6 49.1h0M204.6 54.8h0M193.8 55.1h0M200.1 49.9h0M198.6 52.5h0M197.1 49.7h0M197.0 53.2h0M199.8 56.0h0M197.1 53.6h0M196.1 54.2h0M201.1 52.1h0M205.7 51.7h0M197.6 47.7h0M201.0 48.9h0M199.0 44.6h0M200.9 50.6h0M204.3 59.5h0M192.9 52.1h0M209.0 65.6h0M206.5 67.5h0M207.4 57.8h0M203.2 60.4h0M212.7 71.2h0M213.8 65.3h0M204.7 59.9h0M206.1 59.4h0M204.5 60.7h0M207.7 59.7h0M205.9 59.6h0M204.8 59.8h0M209.4 60.4h0M208.9 58.4h0M204.9 53.7h0M205.0 61.3h0M204.4 61.3h0M203.6 61.5h0M204.6 61.8h0M202.9 57.0h0M205.2 61.7h0M203.5 63.0h0M208.2 58.5h0M208.8 63.0h0M207.6 67.8h0M208.9 53.4h0M208.9 55.2h0M204.7 51.3h0M208.9 60.2h0M201.2 59.0h0M201.5 58.4h0M206.4 59.8h0M199.8 62.8h0M207.3 60.8h0M205.1 50.9h0M206.6 60.9h0M204.2 54.3h0M202.8 61.9h0M201.6 53.0h0M206.8 60.5h0M201.1 48.7h0M204.9 56.5h0M207.0 65.0h0M210.1 59.6h0M209.1 66.9h0M203.7 61.5h0M202.5 57.4h0M211.6 69.7h0M207.8 62.9h0M208.8 66.0h0M204.2 57.0h0M209.9 67.2h0M208.9 66.4h0M211.0 69.9h0M208.3 63.5h0M207.5 65.0h0M201.8 54.9h0M203.7 55.4h0M211.2 62.6h0M207.8 64.0h0M204.2 71.0h0M206.3 64.8h0M207.6 50.8h0M206.0 63.0h0M202.7 53.1h0M207.7 68.7h0M206.1 64.2h0M200.8 58.8h0M202.7 64.5h0M208.8 60.0h0M206.0 62.4h0M206.3 59.2h0M212.2 68.8h0M209.4 55.7h0M208.1 71.0h0M211.2 65.1h0M206.8 59.3h0M211.0 64.7h0M205.9 54.8h0M207.4 58.2h0M206.1 63.0h0M211.1 71.6h0M207.9 61.5h0M206.3 62.4h0M207.0 63.9h0M210.0 63.6h0M202.5 61.2h0M203.2 55.6h0M206.5 59.9h0M207.1 62.6h0M208.6 68.6h0M206.9 57.3h0M208.9 63.7h0M203.5 60.4h0M201.1 48.9h0M204.0 64.1h0M205.1 56.2h0M213.5 69.6h0M206.4 60.6h0M203.7 56.5h0M207.7 61.1h0M211.3 66.3h0M206.6 61.8h0M211.1 68.2h0M202.9 62.9h0M205.0 62.4h0M208.0 60.3h0M208.1 60.9h0M202.8 59.1h0M203.6 63.7h0" stroke="#3a7ab0" stroke-opacity="0.35" stroke-width="0.8" stroke-linecap="square" fill="none"/>
<g filter="url(#b1)">
<ellipse cx="188.70" cy="43.80" rx="4.20" ry="3.40" fill="#88a64a" fill-opacity="0.9"/>
<ellipse cx="188.00" cy="43.50" rx="2.20" ry="1.80" fill="#aeb03c" fill-opacity="0.85"/>
</g>
<g filter="url(#b1)">
<polygon points="241,41 244.5,37.5 250,35.2 256.5,34.8 262.5,36.2 266.5,39 269,43 270,48 270.3,55 271,62 269.8,67.5 266.5,69 264,63.5 262,56.5 257.5,52.5 250,51.8 244,50 241.5,46" fill="#3c7cc8" fill-opacity="0.8"/>
<polygon points="244,41 248,37.5 256,36 262,38 266,42 267.5,48 267.5,56 268.5,63 266.5,67 264.5,62 262,54 256,50.5 249,49.5 245,46" fill="#28a0aa" fill-opacity="0.85"/>
</g>
<path d="M251.9 45.5h0M259.4 39.4h0M248.1 44.7h0M249.2 43.3h0M257.4 41.2h0M263.9 39.8h0M256.4 41.1h0M238.1 41.9h0M253.2 44.6h0M253.3 40.0h0M251.2 41.5h0M258.3 41.6h0M260.9 45.6h0M250.0 46.2h0M241.6 42.6h0M248.7 42.2h0M260.4 42.5h0M253.1 47.0h0M249.9 39.6h0M259.4 44.7h0M246.2 43.1h0M258.4 42.0h0M251.8 43.0h0M255.2 40.1h0M258.7 37.0h0M253.7 50.1h0M248.2 42.4h0M241.5 39.6h0M247.7 42.8h0M251.3 49.0h0M249.0 42.4h0M255.3 44.8h0M259.0 37.0h0M266.2 41.5h0M250.1 36.8h0M251.6 36.3h0M255.1 40.4h0M255.8 39.8h0M254.5 50.4h0M260.5 43.1h0M248.6 47.7h0M244.7 37.6h0M261.2 40.4h0M261.5 44.5h0M266.1 48.8h0M257.3 40.3h0M257.3 47.5h0M254.8 32.4h0M252.0 41.2h0M253.7 41.3h0M260.3 38.1h0M256.5 35.6h0M242.0 39.0h0M249.9 39.4h0M250.2 44.7h0M257.2 42.8h0M255.1 40.1h0M248.6 37.5h0M251.7 38.5h0M252.2 45.1h0M257.0 47.2h0M248.9 34.8h0M247.9 49.5h0M257.9 41.0h0M261.3 41.1h0M263.2 41.1h0M251.8 45.0h0M247.7 41.9h0M264.7 44.0h0M247.9 41.6h0M253.9 39.8h0M256.3 46.9h0M254.3 45.6h0M255.6 43.0h0M249.9 45.9h0M261.5 40.9h0M249.2 44.3h0M254.6 46.5h0M256.7 42.0h0M246.4 44.7h0M254.5 38.1h0M245.8 36.1h0M257.4 41.0h0M235.7 39.4h0M250.5 42.1h0M254.2 41.3h0M258.1 46.1h0M252.8 48.0h0M253.3 39.5h0M254.8 37.5h0M252.3 38.8h0M251.6 43.2h0M240.5 43.9h0M255.4 41.7h0M257.9 43.7h0M252.0 39.0h0M258.0 45.2h0M245.9 39.9h0M247.5 45.4h0M250.8 38.1h0M262.3 44.1h0M255.3 43.3h0M253.0 42.6h0M258.9 44.0h0M251.5 42.8h0M264.3 40.5h0M246.7 42.9h0M247.7 51.7h0M257.4 44.5h0M256.0 49.4h0M248.4 42.3h0M244.8 46.8h0M253.5 48.7h0M252.4 38.8h0M250.1 45.3h0M249.4 43.4h0M250.0 40.0h0M250.9 48.2h0M248.0 43.6h0M258.4 39.9h0M245.6 47.8h0M263.5 41.6h0M247.3 45.5h0M253.7 39.6h0M251.8 34.1h0M249.4 38.2h0M246.6 44.5h0M255.4 48.4h0M239.1 40.1h0M249.3 47.1h0M259.7 42.9h0M254.4 39.8h0M251.1 40.9h0M239.9 49.1h0M258.0 49.8h0M260.8 44.2h0M258.5 36.5h0M248.3 45.5h0M251.8 36.7h0M253.8 37.9h0M253.9 48.0h0M247.6 40.9h0M257.0 42.3h0M254.9 39.5h0M252.0 34.0h0M252.9 47.0h0M247.7 41.8h0M257.8 46.8h0M260.4 39.3h0M251.6 48.6h0M251.3 43.4h0M249.2 40.1h0M237.4 40.5h0M241.7 38.8h0M248.4 47.2h0M258.1 43.8h0M251.0 37.5h0M256.5 39.5h0M253.2 45.8h0M252.8 42.3h0M248.3 46.1h0M256.8 44.9h0M262.9 36.7h0M254.0 44.7h0M255.7 43.5h0M256.5 37.0h0M253.4 46.5h0M253.6 41.7h0M258.6 36.2h0M256.1 47.8h0M263.9 52.4h0M265.9 53.6h0M264.0 57.1h0M263.0 59.7h0M262.4 54.1h0M266.8 55.4h0M267.6 61.8h0M270.9 64.3h0M265.4 60.2h0M263.1 60.3h0M267.1 52.0h0M267.3 59.4h0M264.4 53.2h0M266.8 49.3h0M266.9 60.0h0M267.7 62.8h0M268.9 57.2h0M269.8 58.3h0M262.6 55.1h0M266.2 56.6h0M264.8 66.9h0M261.0 51.7h0M266.5 56.6h0M268.7 56.1h0M267.0 58.9h0M262.5 50.6h0M265.7 60.6h0M266.3 61.6h0M265.2 59.5h0M266.5 59.6h0M265.7 56.8h0M266.0 61.7h0M266.0 58.1h0M265.7 51.6h0M263.8 56.2h0M266.7 50.6h0M262.3 52.1h0M263.4 51.4h0M264.5 58.7h0M263.3 56.5h0M262.9 55.7h0M264.1 46.8h0M265.8 56.9h0M265.6 57.1h0M264.7 50.0h0M266.0 58.8h0M266.4 49.3h0M262.7 50.2h0M264.1 51.2h0M264.4 59.8h0M267.4 45.7h0M267.6 51.0h0M267.2 57.1h0M267.6 54.4h0M263.8 56.1h0M265.9 51.6h0M266.2 55.7h0M265.8 55.9h0M267.6 59.2h0M264.5 54.5h0M260.2 53.2h0M263.3 59.7h0M262.5 53.4h0M267.7 60.0h0M266.8 51.6h0M267.2 60.5h0M263.5 55.4h0M262.3 53.8h0M266.9 56.0h0M264.1 53.7h0M269.3 58.5h0M265.6 66.1h0M264.5 55.5h0M263.8 53.7h0M265.0 49.3h0M265.1 54.5h0M269.3 56.8h0M266.9 58.0h0M266.8 56.2h0M261.2 59.1h0M265.7 59.2h0M265.4 53.4h0M262.5 52.0h0M265.9 55.3h0M263.3 54.8h0M265.4 52.9h0M264.5 53.4h0M260.5 57.7h0M266.5 59.5h0M267.1 52.1h0M266.9 56.8h0M266.6 59.6h0M265.7 50.0h0M268.1 54.4h0M263.4 53.3h0M263.7 51.2h0M268.1 57.3h0M264.7 60.0h0M266.0 56.2h0M267.2 55.1h0M266.0 65.4h0M263.2 60.6h0M267.4 67.0h0M263.4 64.0h0M265.3 63.2h0M267.6 68.2h0M269.7 66.6h0M267.6 64.4h0M263.1 65.1h0M264.3 60.8h0M266.7 59.5h0M269.7 65.7h0M267.1 65.3h0M266.9 64.2h0M267.8 62.1h0M267.0 64.4h0M267.9 60.9h0M266.9 63.6h0M267.6 65.5h0M266.8 65.3h0M267.3 67.8h0M267.0 65.5h0M264.8 63.4h0M267.9 66.9h0M264.7 63.9h0M266.0 64.1h0M265.6 62.8h0M266.4 64.3h0M268.3 61.6h0M264.7 66.2h0M267.4 63.5h0M264.4 66.9h0M264.5 67.2h0M266.9 63.6h0M266.2 66.3h0M266.5 59.1h0M265.2 57.9h0M267.2 66.6h0M268.3 60.2h0M270.3 69.1h0M266.3 58.4h0M264.9 66.9h0M270.2 62.5h0M263.2 61.3h0M269.9 64.0h0M263.9 58.1h0M267.6 66.2h0M265.6 63.4h0M266.6 63.0h0M265.5 62.4h0M265.4 67.4h0M267.2 66.8h0M269.8 57.6h0M266.4 66.7h0M266.1 62.3h0M267.2 62.5h0M265.0 63.1h0M266.6 64.0h0M268.1 64.0h0M265.6 72.5h0" stroke="#2a78b8" stroke-opacity="0.4" stroke-width="0.8" stroke-linecap="square" fill="none"/>
<g filter="url(#b1)">
<ellipse cx="255.50" cy="42.60" rx="7.20" ry="4.60" fill="#6cb644" fill-opacity="0.95"/>
<ellipse cx="257.00" cy="42.60" rx="4.20" ry="2.90" fill="#d6c222" fill-opacity="0.95"/>
<ellipse cx="257.50" cy="42.60" rx="2.10" ry="1.60" fill="#e88a20" fill-opacity="0.9"/>
</g>
<path d="M188.3 94.7h0M189.2 93.7h0M181.6 93.1h0M197.9 94.1h0M185.0 95.5h0M185.2 96.0h0M190.1 92.8h0M188.6 94.1h0M194.7 90.2h0M189.1 100.5h0M189.3 96.9h0M186.1 95.7h0M189.9 92.1h0M186.5 87.1h0M190.7 97.3h0M193.6 99.0h0M193.8 93.8h0M181.2 90.4h0M187.0 96.2h0M188.6 95.2h0M188.8 96.7h0M189.5 97.2h0M186.8 94.6h0M183.7 89.8h0M187.2 96.5h0M187.3 90.5h0M194.4 95.7h0M182.4 89.7h0M186.7 86.8h0M185.1 99.7h0M186.6 92.1h0M194.0 98.6h0M186.8 99.4h0M183.7 93.3h0M191.0 97.6h0M184.8 90.9h0M197.2 99.5h0M186.4 98.3h0M180.9 92.0h0M179.2 96.0h0M184.3 94.2h0M184.6 94.4h0M190.4 96.6h0M187.2 96.0h0M188.5 94.1h0M190.7 99.6h0M184.1 90.4h0M185.1 95.1h0M180.6 97.2h0M189.0 96.5h0M193.9 95.8h0M190.1 97.9h0M196.2 95.8h0M194.5 100.5h0M188.8 99.4h0M188.1 94.9h0M193.2 96.8h0M192.1 102.0h0M189.7 96.9h0M187.2 92.1h0M196.8 96.2h0M189.0 97.0h0M185.8 92.2h0M183.1 100.3h0M188.9 100.6h0M196.9 103.0h0M195.5 97.6h0M184.1 98.5h0M196.9 96.3h0M193.8 99.2h0M191.4 100.3h0M198.4 98.3h0M187.4 99.5h0M187.2 97.0h0M190.8 91.3h0M185.4 97.3h0M188.5 90.7h0M186.6 95.3h0M190.8 98.0h0M192.8 94.3h0M196.0 104.3h0M198.8 108.2h0M202.1 103.2h0M204.0 108.3h0M194.5 104.9h0M196.7 101.0h0M200.2 96.8h0M197.5 110.6h0M198.6 109.6h0M198.7 111.2h0M199.0 109.4h0M198.7 99.4h0M193.3 101.3h0M198.1 110.9h0M200.7 109.0h0M204.9 107.5h0M200.1 103.5h0M198.8 107.7h0M203.5 108.5h0M199.3 104.6h0M202.2 111.9h0M203.9 112.6h0M199.0 110.2h0M201.2 108.4h0M197.9 108.4h0M198.4 105.2h0M193.2 103.0h0M199.4 108.5h0M200.3 106.5h0M197.3 100.9h0M202.1 104.7h0M196.1 105.3h0M202.1 105.3h0M199.0 115.8h0M198.8 114.2h0M199.4 101.3h0M204.9 108.6h0M203.2 106.8h0M200.4 106.3h0M198.3 107.8h0M202.3 103.8h0M201.2 97.8h0M196.3 100.9h0M195.1 109.6h0M197.2 104.7h0M196.0 106.9h0M194.6 107.8h0M195.3 102.6h0M196.5 99.0h0M200.8 106.4h0M208.4 117.4h0M209.1 116.5h0M204.4 117.9h0M205.1 116.3h0M207.4 115.1h0M209.5 113.7h0M210.1 117.0h0M211.3 119.5h0M208.8 117.7h0M207.4 114.1h0M205.7 115.0h0M205.3 116.8h0M205.1 117.4h0M206.5 116.1h0M208.1 118.1h0M203.8 116.4h0M214.4 117.1h0M208.2 115.2h0M209.5 120.5h0M208.5 116.8h0M207.2 112.9h0M208.6 116.4h0M208.1 117.9h0M207.6 121.7h0M209.4 115.7h0M208.6 118.5h0M207.2 120.2h0M206.2 113.3h0M204.5 117.9h0M204.6 117.4h0M203.3 117.9h0M206.5 115.1h0M205.7 116.5h0M209.4 117.6h0M206.6 117.4h0M209.3 118.1h0M211.5 115.5h0M209.1 117.4h0M205.5 118.4h0M209.2 119.2h0M208.3 115.2h0M207.5 117.9h0M211.2 117.4h0M207.5 120.5h0M207.3 116.1h0M207.8 118.8h0M207.5 113.4h0M206.1 119.3h0M205.3 119.0h0M207.5 115.4h0M209.1 112.4h0M201.9 113.7h0M208.4 116.5h0M208.7 116.9h0M207.4 115.9h0M206.1 119.2h0M209.0 114.2h0M208.5 121.5h0M209.0 115.0h0M208.9 117.6h0" stroke="#7890cc" stroke-opacity="0.28" stroke-width="0.8" stroke-linecap="square" fill="none"/>
<g filter="url(#b2)">
<ellipse cx="207.50" cy="117.50" rx="3.00" ry="2.50" fill="#8aa0d0" fill-opacity="0.5"/>
</g>
<g filter="url(#b15)">
<polygon points="240,96 248,92 258,91 265,96 268,106 270,116 266,119 262,110 256,103 246,100" fill="#7a96ba" fill-opacity="0.5"/>
<ellipse cx="258.00" cy="96.00" rx="6.00" ry="4.00" fill="#5a8a94" fill-opacity="0.7"/>
</g>
<path d="M253.4 99.5h0M262.5 94.3h0M256.0 94.8h0M255.3 101.7h0M252.7 98.1h0M256.8 96.4h0M248.6 98.3h0M248.7 98.7h0M254.7 96.6h0M252.5 93.2h0M249.2 96.2h0M254.8 97.1h0M253.5 98.8h0M256.1 96.6h0M253.8 96.1h0M259.1 93.7h0M248.1 97.5h0M257.7 96.2h0M256.7 91.6h0M249.5 96.1h0M255.1 91.9h0M258.0 89.6h0M262.6 92.5h0M251.9 92.5h0M247.3 95.0h0M244.0 95.0h0M256.2 95.1h0M255.1 91.2h0M244.3 91.6h0M261.5 97.2h0M244.6 102.0h0M258.9 99.9h0M261.2 100.6h0M245.2 96.4h0M250.6 102.8h0M259.3 96.1h0M253.7 88.8h0M255.8 93.2h0M263.2 98.7h0M254.8 94.8h0M261.7 94.3h0M261.7 96.8h0M253.5 97.4h0M265.5 90.6h0M259.6 98.7h0M253.7 101.2h0M259.2 98.0h0M249.3 98.1h0M247.6 97.9h0M267.9 93.0h0M264.4 92.4h0M255.6 98.6h0M246.7 97.3h0M250.6 94.0h0M260.2 95.8h0M257.6 96.2h0M257.5 101.5h0M255.9 95.1h0M255.4 98.6h0M257.9 88.7h0M254.8 97.6h0M270.7 94.1h0M253.6 92.1h0M254.8 90.0h0M250.2 95.8h0M246.3 95.2h0M251.1 100.5h0M264.6 103.4h0M256.0 98.4h0M269.2 93.9h0M265.3 93.0h0M261.5 90.7h0M252.8 95.4h0M253.7 89.4h0M255.9 95.1h0M264.0 98.1h0M242.3 96.6h0M261.5 95.8h0M251.0 91.4h0M253.0 92.9h0M253.6 95.0h0M262.8 92.7h0M257.2 92.3h0M256.8 99.7h0M251.8 92.0h0M255.4 96.2h0M251.4 97.6h0M255.6 98.5h0M247.0 98.7h0M262.7 93.3h0M267.0 96.9h0M247.5 92.4h0M250.8 93.9h0M253.8 97.1h0M254.0 95.0h0M249.5 89.0h0M251.0 91.8h0M260.4 87.7h0M262.0 86.2h0M254.0 96.2h0M248.6 92.7h0M260.4 92.3h0M254.6 96.3h0M259.1 91.7h0M263.0 95.6h0M261.2 91.2h0M261.7 95.8h0M259.8 93.9h0M260.3 96.2h0M243.9 104.8h0M251.2 97.7h0M254.0 94.5h0M252.9 99.3h0M260.8 99.3h0M245.4 98.9h0M246.2 104.1h0M257.5 100.1h0M255.2 96.6h0M250.9 103.1h0M253.2 99.9h0M250.3 95.6h0M252.8 95.7h0M252.1 98.3h0M259.1 90.5h0M252.5 91.5h0M261.6 91.7h0M258.0 96.6h0M254.8 89.3h0M265.3 95.6h0M259.3 99.8h0M249.2 92.6h0M265.5 102.9h0M250.3 95.8h0M260.9 95.6h0M263.1 98.2h0M254.7 98.5h0M252.3 100.5h0M251.2 100.7h0M270.2 90.0h0M265.4 90.9h0M254.8 102.5h0M261.7 98.5h0M257.4 96.7h0M258.0 95.4h0M253.5 91.8h0M265.7 96.0h0M266.6 98.7h0M257.9 92.3h0M253.7 96.3h0M254.5 95.1h0M241.5 94.7h0M253.7 94.4h0M253.3 90.6h0M250.1 101.3h0M249.5 94.3h0M250.2 95.5h0M252.1 103.1h0M249.0 100.9h0M252.4 97.7h0M270.4 96.1h0M255.2 86.1h0M253.2 95.3h0M256.0 97.0h0M248.6 92.8h0M259.8 95.2h0M255.4 98.5h0M255.9 96.7h0M248.7 96.1h0M245.0 102.3h0M250.6 102.0h0M262.8 105.9h0M267.6 106.0h0M264.1 104.7h0M262.3 102.9h0M259.3 98.4h0M262.5 102.6h0M271.1 115.0h0M266.6 98.9h0M263.1 105.9h0M263.3 114.8h0M266.4 107.0h0M269.6 106.8h0M264.0 107.8h0M263.9 108.8h0M262.0 109.7h0M262.8 104.4h0M263.1 105.9h0M261.1 110.5h0M266.8 114.8h0M265.8 110.7h0M263.9 105.6h0M260.5 105.1h0M258.7 95.3h0M262.3 103.1h0M266.7 110.8h0M265.5 112.1h0M268.5 108.7h0M263.6 107.0h0M270.7 112.1h0M264.0 97.1h0M261.9 116.6h0M268.2 112.0h0M265.1 104.3h0M265.2 105.6h0M269.2 108.9h0M260.7 103.5h0M268.2 109.5h0M265.5 107.6h0M259.8 103.3h0M262.3 97.1h0M266.4 108.6h0M267.3 109.7h0M269.3 106.0h0M259.4 98.9h0M259.1 108.6h0M263.5 97.6h0M263.4 102.7h0M264.0 107.5h0M262.3 100.6h0M265.8 105.0h0M261.2 111.5h0M267.3 103.1h0M265.3 97.4h0M265.9 112.6h0M268.3 107.6h0M266.1 103.4h0M267.6 110.2h0M267.2 107.2h0M267.0 107.6h0M263.0 98.4h0M264.1 101.3h0M263.5 106.8h0M262.6 99.8h0M263.4 107.8h0M263.3 106.7h0M265.2 107.1h0M263.3 107.6h0M263.4 99.8h0M264.4 100.8h0M266.2 108.8h0M263.7 100.1h0M260.1 101.4h0M265.8 106.4h0M261.3 111.3h0M266.2 102.7h0M264.5 107.5h0M261.1 105.1h0M265.0 104.1h0M264.4 106.8h0M268.8 106.0h0M264.2 103.7h0M267.3 105.5h0M266.4 112.5h0M265.8 100.7h0M265.7 112.5h0M265.8 114.0h0M267.2 115.6h0M258.6 97.9h0M264.2 116.8h0M261.8 104.8h0M261.6 103.2h0M264.8 106.7h0M261.8 104.3h0M269.0 109.6h0M268.7 111.2h0M265.3 110.5h0M266.7 100.9h0M263.2 93.4h0M257.2 100.9h0M260.2 102.5h0M266.1 116.6h0M265.6 113.0h0M264.5 109.3h0M266.7 111.9h0M268.9 114.5h0M263.5 116.3h0M264.7 112.9h0M265.0 111.7h0M265.9 110.6h0M265.6 113.3h0M268.5 116.3h0M270.7 109.2h0M266.3 117.8h0M264.8 113.6h0M268.5 118.8h0M268.2 115.1h0M266.8 116.0h0M267.3 115.1h0M265.8 113.7h0M265.3 110.8h0M265.4 111.6h0M265.7 112.4h0M264.0 115.0h0M267.7 118.8h0M262.3 109.8h0M265.1 111.5h0M267.2 111.5h0M265.5 116.3h0M266.7 109.2h0M269.0 120.8h0M269.3 113.6h0M269.8 113.9h0M266.4 114.8h0M269.7 114.4h0M266.5 109.9h0M267.4 110.9h0M266.9 109.9h0M265.3 111.2h0M265.7 110.7h0M269.5 116.4h0M266.4 111.0h0M269.2 113.4h0M268.2 117.1h0M266.2 115.4h0M268.0 112.8h0M266.7 112.2h0M260.3 112.9h0M270.4 117.1h0M272.5 114.3h0M268.8 112.2h0" stroke="#5a7aa0" stroke-opacity="0.35" stroke-width="0.8" stroke-linecap="square" fill="none"/>
<rect x="173.30" y="25.40" width="51.20" height="50.80" fill="none" stroke="#8a8a8a" stroke-width="0.6"/>
<text x="175.10" y="31.90" font-size="2.2" fill="#333" stroke="#333" stroke-width="0.1">Q1</text>
<text x="175.10" y="73.70" font-size="2.2" fill="#333" stroke="#333" stroke-width="0.1">Q1</text>
<text x="219.00" y="73.70" font-size="2.2" fill="#333" stroke="#333" stroke-width="0.1">Q1</text>
<line x1="173.10" y1="65.02" x2="173.10" y2="66.42" stroke="#111" stroke-width="1.0" />
<line x1="185.08" y1="76.40" x2="186.68" y2="76.40" stroke="#111" stroke-width="1.0" />
<rect x="227.60" y="25.40" width="52.40" height="50.80" fill="none" stroke="#8a8a8a" stroke-width="0.6"/>
<text x="229.40" y="31.90" font-size="2.2" fill="#333" stroke="#333" stroke-width="0.1">Q1</text>
<text x="229.40" y="73.70" font-size="2.2" fill="#333" stroke="#333" stroke-width="0.1">Q1</text>
<text x="274.50" y="73.70" font-size="2.2" fill="#333" stroke="#333" stroke-width="0.1">Q1</text>
<line x1="227.40" y1="65.02" x2="227.40" y2="66.42" stroke="#111" stroke-width="1.0" />
<line x1="239.65" y1="76.40" x2="241.25" y2="76.40" stroke="#111" stroke-width="1.0" />
<rect x="173.30" y="81.20" width="51.20" height="50.00" fill="none" stroke="#8a8a8a" stroke-width="0.6"/>
<text x="175.10" y="87.70" font-size="2.2" fill="#333" stroke="#333" stroke-width="0.1">Q1</text>
<text x="175.10" y="128.70" font-size="2.2" fill="#333" stroke="#333" stroke-width="0.1">Q1</text>
<text x="219.00" y="128.70" font-size="2.2" fill="#333" stroke="#333" stroke-width="0.1">Q1</text>
<line x1="173.10" y1="120.20" x2="173.10" y2="121.60" stroke="#111" stroke-width="1.0" />
<line x1="185.08" y1="131.40" x2="186.68" y2="131.40" stroke="#111" stroke-width="1.0" />
<rect x="227.60" y="81.20" width="52.40" height="50.00" fill="none" stroke="#8a8a8a" stroke-width="0.6"/>
<text x="229.40" y="87.70" font-size="2.2" fill="#333" stroke="#333" stroke-width="0.1">Q1</text>
<text x="229.40" y="128.70" font-size="2.2" fill="#333" stroke="#333" stroke-width="0.1">Q1</text>
<text x="274.50" y="128.70" font-size="2.2" fill="#333" stroke="#333" stroke-width="0.1">Q1</text>
<line x1="227.40" y1="120.20" x2="227.40" y2="121.60" stroke="#111" stroke-width="1.0" />
<line x1="239.65" y1="131.40" x2="241.25" y2="131.40" stroke="#111" stroke-width="1.0" />
<line x1="196.60" y1="25.40" x2="196.60" y2="76.20" stroke="#666" stroke-width="0.6" />
<line x1="173.30" y1="50.60" x2="224.50" y2="50.60" stroke="#666" stroke-width="0.6" />
<line x1="251.00" y1="25.40" x2="251.00" y2="76.20" stroke="#666" stroke-width="0.6" />
<line x1="227.60" y1="50.90" x2="280.00" y2="50.90" stroke="#666" stroke-width="0.6" />
<line x1="196.60" y1="81.20" x2="196.60" y2="131.20" stroke="#666" stroke-width="0.6" />
<line x1="173.30" y1="105.70" x2="224.50" y2="105.70" stroke="#666" stroke-width="0.6" />
<line x1="251.00" y1="81.20" x2="251.00" y2="131.20" stroke="#666" stroke-width="0.6" />
<line x1="227.60" y1="105.90" x2="280.00" y2="105.90" stroke="#666" stroke-width="0.6" />
<text x="207.33" y="33.60" font-size="9.50" fill="#d22f3c" textLength="16.14" lengthAdjust="spacingAndGlyphs" stroke="#d22f3c" stroke-width="0.05" >15.5</text>
<text x="260.83" y="33.60" font-size="9.50" fill="#d22f3c" textLength="16.74" lengthAdjust="spacingAndGlyphs" stroke="#d22f3c" stroke-width="0.04" >69.4</text>
<text x="207.03" y="89.40" font-size="9.50" fill="#d22f3c" textLength="16.44" lengthAdjust="spacingAndGlyphs" stroke="#d22f3c" stroke-width="0.04" >19.6</text>
<text x="261.23" y="89.40" font-size="9.50" fill="#d22f3c" textLength="17.14" lengthAdjust="spacingAndGlyphs" stroke="#d22f3c" stroke-width="0.03" >74.2</text>
<text x="288.60" y="72.72" font-size="8.65" fill="#1e1e1e" textLength="40.84" lengthAdjust="spacingAndGlyphs" transform="rotate(-90 288.60 72.72)" stroke="#1e1e1e" stroke-width="0.08">Bone Marrow</text>
<text x="288.60" y="116.72" font-size="8.65" fill="#1e1e1e" textLength="22.44" lengthAdjust="spacingAndGlyphs" transform="rotate(-90 288.60 116.72)" stroke="#1e1e1e" stroke-width="0.07">Spleen</text>
<text x="168.10" y="130.22" font-size="10.39" fill="#1e1e1e" textLength="19.05" lengthAdjust="spacingAndGlyphs" transform="rotate(-90 168.10 130.22)" stroke="#1e1e1e" stroke-width="0.11">CD71</text>
<text x="172.61" y="143.50" font-size="9.81" fill="#1e1e1e" textLength="24.18" lengthAdjust="spacingAndGlyphs" stroke="#1e1e1e" stroke-width="0.08" >CD150</text>
<rect x="310.60" y="44.10" width="65.10" height="64.50" fill="none" stroke="#777" stroke-width="0.6"/>
<line x1="339.70" y1="44.10" x2="339.70" y2="108.60" stroke="#777" stroke-width="0.6" />
<line x1="310.60" y1="74.70" x2="375.70" y2="74.70" stroke="#777" stroke-width="0.6" />
<text x="312.31" y="52.90" font-size="6.47" fill="#1e1e1e" textLength="20.48" lengthAdjust="spacingAndGlyphs" >CFU-E</text>
<text x="343.41" y="52.90" font-size="8.21" fill="#d22f3c" textLength="26.89" lengthAdjust="spacingAndGlyphs" stroke="#d22f3c" stroke-width="0.03" >sCFU-E</text>
<text x="353.21" y="106.90" font-size="6.47" fill="#1e1e1e" textLength="19.08" lengthAdjust="spacingAndGlyphs" stroke="#1e1e1e" stroke-width="0.01" >BFU-E</text>
<text x="304.30" y="109.43" font-size="10.54" fill="#1e1e1e" textLength="19.06" lengthAdjust="spacingAndGlyphs" transform="rotate(-90 304.30 109.43)" stroke="#1e1e1e" stroke-width="0.12">CD71</text>
<circle cx="310.6" cy="93.4" r="0.9" fill="#111"/>
<line x1="320.50" y1="108.90" x2="327.50" y2="108.90" stroke="#111" stroke-width="1.2" />
<line x1="310.20" y1="66.40" x2="311.00" y2="66.40" stroke="#555" stroke-width="0.6" />
<line x1="310.20" y1="103.80" x2="311.00" y2="103.80" stroke="#555" stroke-width="0.6" />
<text x="310.56" y="121.50" font-size="10.68" fill="#1e1e1e" textLength="24.58" lengthAdjust="spacingAndGlyphs" stroke="#1e1e1e" stroke-width="0.10" >CD150</text>
<text x="387.74" y="9.20" font-size="10.97" fill="#111" textLength="8.52" lengthAdjust="spacingAndGlyphs" font-weight="bold" stroke="#111" stroke-width="0.05" >C</text>
<text x="447.11" y="36.10" font-size="9.81" fill="#1e1e1e" textLength="19.28" lengthAdjust="spacingAndGlyphs" stroke="#1e1e1e" stroke-width="0.03" >RBC</text>
<line x1="424.60" y1="38.00" x2="424.60" y2="107.50" stroke="#1a1a1a" stroke-width="1.1" />
<line x1="424.10" y1="107.00" x2="488.46" y2="107.00" stroke="#1a1a1a" stroke-width="1.1" />
<line x1="421.60" y1="107.00" x2="424.60" y2="107.00" stroke="#1a1a1a" stroke-width="0.8" />
<text x="418.60" y="109.50" font-size="8.0" fill="#1e1e1e" text-anchor="end" stroke="#1e1e1e" stroke-width="0.05">0</text>
<line x1="421.60" y1="95.75" x2="424.60" y2="95.75" stroke="#1a1a1a" stroke-width="0.8" />
<text x="418.60" y="98.25" font-size="8.0" fill="#1e1e1e" text-anchor="end" stroke="#1e1e1e" stroke-width="0.05">2</text>
<line x1="421.60" y1="84.50" x2="424.60" y2="84.50" stroke="#1a1a1a" stroke-width="0.8" />
<text x="418.60" y="87.00" font-size="8.0" fill="#1e1e1e" text-anchor="end" stroke="#1e1e1e" stroke-width="0.05">4</text>
<line x1="421.60" y1="73.25" x2="424.60" y2="73.25" stroke="#1a1a1a" stroke-width="0.8" />
<text x="418.60" y="75.75" font-size="8.0" fill="#1e1e1e" text-anchor="end" stroke="#1e1e1e" stroke-width="0.05">6</text>
<line x1="421.60" y1="62.00" x2="424.60" y2="62.00" stroke="#1a1a1a" stroke-width="0.8" />
<text x="418.60" y="64.50" font-size="8.0" fill="#1e1e1e" text-anchor="end" stroke="#1e1e1e" stroke-width="0.05">8</text>
<line x1="421.60" y1="50.75" x2="424.60" y2="50.75" stroke="#1a1a1a" stroke-width="0.8" />
<text x="418.60" y="53.25" font-size="8.0" fill="#1e1e1e" text-anchor="end" stroke="#1e1e1e" stroke-width="0.05">10</text>
<line x1="421.60" y1="39.50" x2="424.60" y2="39.50" stroke="#1a1a1a" stroke-width="0.8" />
<text x="418.60" y="42.00" font-size="8.0" fill="#1e1e1e" text-anchor="end" stroke="#1e1e1e" stroke-width="0.05">12</text>
<line x1="424.60" y1="107.00" x2="424.60" y2="109.80" stroke="#1a1a1a" stroke-width="0.8" />
<text x="424.60" y="119.90" font-size="8.2" fill="#1e1e1e" text-anchor="middle" stroke="#1e1e1e" stroke-width="0.05">0</text>
<line x1="440.05" y1="107.00" x2="440.05" y2="109.80" stroke="#1a1a1a" stroke-width="0.8" />
<text x="440.05" y="119.90" font-size="8.2" fill="#1e1e1e" text-anchor="middle" stroke="#1e1e1e" stroke-width="0.05">3</text>
<line x1="455.50" y1="107.00" x2="455.50" y2="109.80" stroke="#1a1a1a" stroke-width="0.8" />
<text x="455.50" y="119.90" font-size="8.2" fill="#1e1e1e" text-anchor="middle" stroke="#1e1e1e" stroke-width="0.05">6</text>
<line x1="470.95" y1="107.00" x2="470.95" y2="109.80" stroke="#1a1a1a" stroke-width="0.8" />
<text x="470.95" y="119.90" font-size="8.2" fill="#1e1e1e" text-anchor="middle" stroke="#1e1e1e" stroke-width="0.05">9</text>
<line x1="486.40" y1="107.00" x2="486.40" y2="109.80" stroke="#1a1a1a" stroke-width="0.8" />
<text x="486.40" y="119.90" font-size="8.2" fill="#1e1e1e" text-anchor="middle" stroke="#1e1e1e" stroke-width="0.05">12</text>
<text x="447.45" y="132.50" font-size="9.23" fill="#1e1e1e" textLength="18.61" lengthAdjust="spacingAndGlyphs" stroke="#1e1e1e" stroke-width="0.07" >(Day)</text>
<text x="403.60" y="80.68" font-size="8.03" fill="#1e1e1e" textLength="17.96" lengthAdjust="spacingAndGlyphs" transform="rotate(-90 403.60 80.68)" stroke="#1e1e1e" stroke-width="0.01">M/µl</text>
<polyline points="424.60,52.44 434.90,81.12 445.20,71.00 455.50,64.25 465.80,58.06 481.25,56.94" fill="none" stroke="#a8143a" stroke-width="1.1"/>
<circle cx="424.60" cy="52.44" r="2.0" fill="#a8143a"/>
<circle cx="434.90" cy="81.12" r="2.0" fill="#a8143a"/>
<circle cx="445.20" cy="71.00" r="2.0" fill="#a8143a"/>
<circle cx="455.50" cy="64.25" r="2.0" fill="#a8143a"/>
<circle cx="465.80" cy="58.06" r="2.0" fill="#a8143a"/>
<circle cx="481.25" cy="56.94" r="2.0" fill="#a8143a"/>
<circle cx="433.30" cy="71.50" r="0.95" fill="#2a2a2a"/>
<circle cx="436.50" cy="71.50" r="0.95" fill="#2a2a2a"/>
<circle cx="443.60" cy="64.80" r="0.95" fill="#2a2a2a"/>
<circle cx="446.80" cy="64.80" r="0.95" fill="#2a2a2a"/>
<circle cx="453.90" cy="58.20" r="0.95" fill="#2a2a2a"/>
<circle cx="457.10" cy="58.20" r="0.95" fill="#2a2a2a"/>
<circle cx="464.20" cy="51.60" r="0.95" fill="#2a2a2a"/>
<circle cx="467.40" cy="51.60" r="0.95" fill="#2a2a2a"/>
<text x="1.13" y="170.60" font-size="11.12" fill="#111" textLength="9.63" lengthAdjust="spacingAndGlyphs" font-weight="bold" stroke="#111" stroke-width="0.05" >D</text>
<text x="44.10" y="181.30" font-size="8.8" fill="#1e1e1e" text-anchor="middle" stroke="#1e1e1e" stroke-width="0.05">0</text>
<text x="90.70" y="181.30" font-size="8.8" fill="#1e1e1e" text-anchor="middle" stroke="#1e1e1e" stroke-width="0.05">1</text>
<text x="137.70" y="181.30" font-size="8.8" fill="#1e1e1e" text-anchor="middle" stroke="#1e1e1e" stroke-width="0.05">2</text>
<text x="184.20" y="181.30" font-size="8.8" fill="#1e1e1e" text-anchor="middle" stroke="#1e1e1e" stroke-width="0.05">4</text>
<text x="231.00" y="181.30" font-size="8.8" fill="#1e1e1e" text-anchor="middle" stroke="#1e1e1e" stroke-width="0.05">6</text>
<text x="277.80" y="181.30" font-size="8.8" fill="#1e1e1e" text-anchor="middle" stroke="#1e1e1e" stroke-width="0.05">9</text>
<text x="287.46" y="181.30" font-size="8.94" fill="#1e1e1e" textLength="20.67" lengthAdjust="spacingAndGlyphs" stroke="#1e1e1e" stroke-width="0.02" >(Day)</text>
<clipPath id="dc00"><rect x="20.80" y="186.30" width="43.90" height="43.60"/></clipPath>
<g filter="url(#grain)"><g clip-path="url(#dc00)">
<ellipse cx="33.00" cy="203.50" rx="8.50" ry="8.00" fill="#000" fill-opacity="0.33" transform="rotate(20 33.00 203.50)"/>
<ellipse cx="31.10" cy="202.60" rx="4.80" ry="4.80" fill="#000" fill-opacity="0.95"/>
<ellipse cx="44.00" cy="206.00" rx="5.00" ry="7.00" fill="#000" fill-opacity="0.18"/>
<ellipse cx="46.00" cy="214.00" rx="3.00" ry="6.00" fill="#000" fill-opacity="0.3" transform="rotate(-35 46.00 214.00)"/>
<ellipse cx="50.50" cy="221.50" rx="3.50" ry="3.50" fill="#000" fill-opacity="0.55"/>
</g></g>
<rect x="20.80" y="186.30" width="43.90" height="43.60" fill="none" stroke="#8a8a8a" stroke-width="0.6"/>
<line x1="38.60" y1="186.30" x2="38.60" y2="229.90" stroke="#888" stroke-width="0.5" />
<line x1="20.80" y1="213.60" x2="64.70" y2="213.60" stroke="#888" stroke-width="0.5" />
<line x1="42.50" y1="186.30" x2="38.80" y2="213.60" stroke="#de5a66" stroke-width="0.7" />
<path d="M38.60,213.60 Q51.80,212.70 64.70,210.00" stroke="#de5a66" stroke-width="0.7" fill="none"/>
<text x="50.91" y="192.60" font-size="6.50" fill="#d4262c" textLength="13.18" lengthAdjust="spacingAndGlyphs" font-weight="bold" stroke="#d4262c" stroke-width="0.22" >14.0</text>
<text x="22.30" y="189.60" font-size="2.4" fill="#111" stroke="#111" stroke-width="0.15">Q1</text>
<text x="22.30" y="191.90" font-size="2.4" fill="#111" stroke="#111" stroke-width="0.15">0.9</text>
<text x="22.30" y="226.30" font-size="2.4" fill="#111" stroke="#111" stroke-width="0.15">Q1</text>
<text x="22.30" y="228.60" font-size="2.4" fill="#111" stroke="#111" stroke-width="0.15">0.9</text>
<text x="59.90" y="226.30" font-size="2.4" fill="#111" stroke="#111" stroke-width="0.15">Q1</text>
<text x="59.90" y="228.60" font-size="2.4" fill="#111" stroke="#111" stroke-width="0.15">0.9</text>
<line x1="20.50" y1="216.82" x2="20.50" y2="218.02" stroke="#222" stroke-width="0.8" />
<line x1="31.77" y1="230.20" x2="32.98" y2="230.20" stroke="#222" stroke-width="0.8" />
<clipPath id="dc01"><rect x="67.65" y="186.30" width="43.90" height="43.60"/></clipPath>
<g filter="url(#grain)"><g clip-path="url(#dc01)">
<ellipse cx="90.00" cy="202.00" rx="12.00" ry="9.00" fill="#000" fill-opacity="0.28"/>
<ellipse cx="79.00" cy="196.00" rx="6.00" ry="4.00" fill="#000" fill-opacity="0.42"/>
<ellipse cx="94.50" cy="201.00" rx="5.50" ry="7.00" fill="#000" fill-opacity="0.95" transform="rotate(-15 94.50 201.00)"/>
<ellipse cx="99.30" cy="220.00" rx="2.30" ry="6.00" fill="#000" fill-opacity="0.42"/>
</g></g>
<rect x="67.65" y="186.30" width="43.90" height="43.60" fill="none" stroke="#8a8a8a" stroke-width="0.6"/>
<line x1="85.45" y1="186.30" x2="85.45" y2="229.90" stroke="#888" stroke-width="0.5" />
<line x1="67.65" y1="213.60" x2="111.55" y2="213.60" stroke="#888" stroke-width="0.5" />
<line x1="89.35" y1="186.30" x2="85.65" y2="213.60" stroke="#de5a66" stroke-width="0.7" />
<path d="M85.45,213.60 Q98.65,212.70 111.55,210.00" stroke="#de5a66" stroke-width="0.7" fill="none"/>
<text x="97.76" y="192.60" font-size="6.50" fill="#d4262c" textLength="13.18" lengthAdjust="spacingAndGlyphs" font-weight="bold" stroke="#d4262c" stroke-width="0.22" >73.7</text>
<text x="69.15" y="189.60" font-size="2.4" fill="#111" stroke="#111" stroke-width="0.15">Q1</text>
<text x="69.15" y="191.90" font-size="2.4" fill="#111" stroke="#111" stroke-width="0.15">0.9</text>
<text x="69.15" y="226.30" font-size="2.4" fill="#111" stroke="#111" stroke-width="0.15">Q1</text>
<text x="69.15" y="228.60" font-size="2.4" fill="#111" stroke="#111" stroke-width="0.15">0.9</text>
<text x="106.75" y="226.30" font-size="2.4" fill="#111" stroke="#111" stroke-width="0.15">Q1</text>
<text x="106.75" y="228.60" font-size="2.4" fill="#111" stroke="#111" stroke-width="0.15">0.9</text>
<line x1="67.35" y1="216.82" x2="67.35" y2="218.02" stroke="#222" stroke-width="0.8" />
<line x1="78.62" y1="230.20" x2="79.83" y2="230.20" stroke="#222" stroke-width="0.8" />
<clipPath id="dc02"><rect x="114.50" y="186.30" width="43.90" height="43.60"/></clipPath>
<g filter="url(#grain)"><g clip-path="url(#dc02)">
<ellipse cx="136.00" cy="203.00" rx="13.00" ry="8.00" fill="#000" fill-opacity="0.3"/>
<ellipse cx="140.00" cy="200.50" rx="7.00" ry="3.80" fill="#000" fill-opacity="0.85"/>
<ellipse cx="128.00" cy="200.00" rx="5.00" ry="4.00" fill="#000" fill-opacity="0.4"/>
<ellipse cx="145.00" cy="216.00" rx="3.00" ry="5.00" fill="#000" fill-opacity="0.35" transform="rotate(-10 145.00 216.00)"/>
</g></g>
<rect x="114.50" y="186.30" width="43.90" height="43.60" fill="none" stroke="#8a8a8a" stroke-width="0.6"/>
<line x1="132.30" y1="186.30" x2="132.30" y2="229.90" stroke="#888" stroke-width="0.5" />
<line x1="114.50" y1="213.60" x2="158.40" y2="213.60" stroke="#888" stroke-width="0.5" />
<line x1="136.20" y1="186.30" x2="132.50" y2="213.60" stroke="#de5a66" stroke-width="0.7" />
<path d="M132.30,213.60 Q145.50,212.70 158.40,210.00" stroke="#de5a66" stroke-width="0.7" fill="none"/>
<text x="144.61" y="192.60" font-size="6.50" fill="#d4262c" textLength="13.18" lengthAdjust="spacingAndGlyphs" font-weight="bold" stroke="#d4262c" stroke-width="0.22" >71.6</text>
<text x="116.00" y="189.60" font-size="2.4" fill="#111" stroke="#111" stroke-width="0.15">Q1</text>
<text x="116.00" y="191.90" font-size="2.4" fill="#111" stroke="#111" stroke-width="0.15">0.9</text>
<text x="116.00" y="226.30" font-size="2.4" fill="#111" stroke="#111" stroke-width="0.15">Q1</text>
<text x="116.00" y="228.60" font-size="2.4" fill="#111" stroke="#111" stroke-width="0.15">0.9</text>
<text x="153.60" y="226.30" font-size="2.4" fill="#111" stroke="#111" stroke-width="0.15">Q1</text>
<text x="153.60" y="228.60" font-size="2.4" fill="#111" stroke="#111" stroke-width="0.15">0.9</text>
<line x1="114.20" y1="216.82" x2="114.20" y2="218.02" stroke="#222" stroke-width="0.8" />
<line x1="125.47" y1="230.20" x2="126.67" y2="230.20" stroke="#222" stroke-width="0.8" />
<clipPath id="dc03"><rect x="161.35" y="186.30" width="43.90" height="43.60"/></clipPath>
<g filter="url(#grain)"><g clip-path="url(#dc03)">
<ellipse cx="178.00" cy="210.00" rx="13.00" ry="11.00" fill="#000" fill-opacity="0.35" transform="rotate(20 178.00 210.00)"/>
<ellipse cx="173.80" cy="207.00" rx="5.50" ry="5.50" fill="#000" fill-opacity="0.85"/>
<ellipse cx="190.50" cy="220.50" rx="3.00" ry="3.00" fill="#000" fill-opacity="0.55"/>
</g></g>
<rect x="161.35" y="186.30" width="43.90" height="43.60" fill="none" stroke="#8a8a8a" stroke-width="0.6"/>
<line x1="179.15" y1="186.30" x2="179.15" y2="229.90" stroke="#888" stroke-width="0.5" />
<line x1="161.35" y1="213.60" x2="205.25" y2="213.60" stroke="#888" stroke-width="0.5" />
<line x1="183.05" y1="186.30" x2="179.35" y2="213.60" stroke="#de5a66" stroke-width="0.7" />
<path d="M179.15,213.60 Q192.35,212.70 205.25,210.00" stroke="#de5a66" stroke-width="0.7" fill="none"/>
<text x="191.46" y="192.60" font-size="6.50" fill="#d4262c" textLength="13.18" lengthAdjust="spacingAndGlyphs" font-weight="bold" stroke="#d4262c" stroke-width="0.22" >19.6</text>
<text x="162.85" y="189.60" font-size="2.4" fill="#111" stroke="#111" stroke-width="0.15">Q1</text>
<text x="162.85" y="191.90" font-size="2.4" fill="#111" stroke="#111" stroke-width="0.15">0.9</text>
<text x="162.85" y="226.30" font-size="2.4" fill="#111" stroke="#111" stroke-width="0.15">Q1</text>
<text x="162.85" y="228.60" font-size="2.4" fill="#111" stroke="#111" stroke-width="0.15">0.9</text>
<text x="200.45" y="226.30" font-size="2.4" fill="#111" stroke="#111" stroke-width="0.15">Q1</text>
<text x="200.45" y="228.60" font-size="2.4" fill="#111" stroke="#111" stroke-width="0.15">0.9</text>
<line x1="161.05" y1="216.82" x2="161.05" y2="218.02" stroke="#222" stroke-width="0.8" />
<line x1="172.33" y1="230.20" x2="173.53" y2="230.20" stroke="#222" stroke-width="0.8" />
<clipPath id="dc04"><rect x="208.20" y="186.30" width="43.90" height="43.60"/></clipPath>
<g filter="url(#grain)"><g clip-path="url(#dc04)">
<ellipse cx="222.00" cy="211.00" rx="11.00" ry="11.00" fill="#000" fill-opacity="0.3"/>
<ellipse cx="217.50" cy="207.00" rx="4.20" ry="6.50" fill="#000" fill-opacity="0.95"/>
<ellipse cx="217.00" cy="219.00" rx="5.00" ry="5.00" fill="#000" fill-opacity="0.25"/>
<ellipse cx="234.00" cy="219.00" rx="5.00" ry="3.50" fill="#000" fill-opacity="0.35" transform="rotate(30 234.00 219.00)"/>
<ellipse cx="228.00" cy="212.00" rx="5.00" ry="4.00" fill="#000" fill-opacity="0.2"/>
</g></g>
<rect x="208.20" y="186.30" width="43.90" height="43.60" fill="none" stroke="#8a8a8a" stroke-width="0.6"/>
<line x1="226.00" y1="186.30" x2="226.00" y2="229.90" stroke="#888" stroke-width="0.5" />
<line x1="208.20" y1="213.60" x2="252.10" y2="213.60" stroke="#888" stroke-width="0.5" />
<line x1="229.90" y1="186.30" x2="226.20" y2="213.60" stroke="#de5a66" stroke-width="0.7" />
<path d="M226.00,213.60 Q239.20,212.70 252.10,210.00" stroke="#de5a66" stroke-width="0.7" fill="none"/>
<text x="238.31" y="192.60" font-size="6.50" fill="#d4262c" textLength="13.18" lengthAdjust="spacingAndGlyphs" font-weight="bold" stroke="#d4262c" stroke-width="0.22" >7.07</text>
<text x="209.70" y="189.60" font-size="2.4" fill="#111" stroke="#111" stroke-width="0.15">Q1</text>
<text x="209.70" y="191.90" font-size="2.4" fill="#111" stroke="#111" stroke-width="0.15">0.9</text>
<text x="209.70" y="226.30" font-size="2.4" fill="#111" stroke="#111" stroke-width="0.15">Q1</text>
<text x="209.70" y="228.60" font-size="2.4" fill="#111" stroke="#111" stroke-width="0.15">0.9</text>
<text x="247.30" y="226.30" font-size="2.4" fill="#111" stroke="#111" stroke-width="0.15">Q1</text>
<text x="247.30" y="228.60" font-size="2.4" fill="#111" stroke="#111" stroke-width="0.15">0.9</text>
<line x1="207.90" y1="216.82" x2="207.90" y2="218.02" stroke="#222" stroke-width="0.8" />
<line x1="219.18" y1="230.20" x2="220.38" y2="230.20" stroke="#222" stroke-width="0.8" />
<clipPath id="dc05"><rect x="255.05" y="186.30" width="43.90" height="43.60"/></clipPath>
<g filter="url(#grain)"><g clip-path="url(#dc05)">
<ellipse cx="271.00" cy="210.00" rx="13.00" ry="10.00" fill="#000" fill-opacity="0.3" transform="rotate(25 271.00 210.00)"/>
<ellipse cx="265.50" cy="205.00" rx="5.50" ry="5.00" fill="#000" fill-opacity="0.72"/>
<ellipse cx="275.00" cy="213.00" rx="5.00" ry="4.00" fill="#000" fill-opacity="0.3" transform="rotate(30 275.00 213.00)"/>
<ellipse cx="283.50" cy="221.00" rx="3.50" ry="3.00" fill="#000" fill-opacity="0.55"/>
</g></g>
<rect x="255.05" y="186.30" width="43.90" height="43.60" fill="none" stroke="#8a8a8a" stroke-width="0.6"/>
<line x1="272.85" y1="186.30" x2="272.85" y2="229.90" stroke="#888" stroke-width="0.5" />
<line x1="255.05" y1="213.60" x2="298.95" y2="213.60" stroke="#888" stroke-width="0.5" />
<line x1="276.75" y1="186.30" x2="273.05" y2="213.60" stroke="#de5a66" stroke-width="0.7" />
<path d="M272.85,213.60 Q286.05,212.70 298.95,210.00" stroke="#de5a66" stroke-width="0.7" fill="none"/>
<text x="285.16" y="192.60" font-size="6.50" fill="#d4262c" textLength="13.18" lengthAdjust="spacingAndGlyphs" font-weight="bold" stroke="#d4262c" stroke-width="0.22" >17.5</text>
<text x="256.55" y="189.60" font-size="2.4" fill="#111" stroke="#111" stroke-width="0.15">Q1</text>
<text x="256.55" y="191.90" font-size="2.4" fill="#111" stroke="#111" stroke-width="0.15">0.9</text>
<text x="256.55" y="226.30" font-size="2.4" fill="#111" stroke="#111" stroke-width="0.15">Q1</text>
<text x="256.55" y="228.60" font-size="2.4" fill="#111" stroke="#111" stroke-width="0.15">0.9</text>
<text x="294.15" y="226.30" font-size="2.4" fill="#111" stroke="#111" stroke-width="0.15">Q1</text>
<text x="294.15" y="228.60" font-size="2.4" fill="#111" stroke="#111" stroke-width="0.15">0.9</text>
<line x1="254.75" y1="216.82" x2="254.75" y2="218.02" stroke="#222" stroke-width="0.8" />
<line x1="266.03" y1="230.20" x2="267.23" y2="230.20" stroke="#222" stroke-width="0.8" />
<clipPath id="dc10"><rect x="20.80" y="232.50" width="43.90" height="43.60"/></clipPath>
<g filter="url(#grain)"><g clip-path="url(#dc10)">
<ellipse cx="25.80" cy="245.70" rx="4.50" ry="4.50" fill="#000" fill-opacity="0.85"/>
<ellipse cx="32.00" cy="247.00" rx="9.00" ry="7.00" fill="#000" fill-opacity="0.3"/>
<ellipse cx="45.00" cy="251.00" rx="4.00" ry="5.00" fill="#000" fill-opacity="0.25"/>
<ellipse cx="50.30" cy="261.50" rx="2.50" ry="2.50" fill="#000" fill-opacity="0.35"/>
</g></g>
<rect x="20.80" y="232.50" width="43.90" height="43.60" fill="none" stroke="#8a8a8a" stroke-width="0.6"/>
<line x1="38.60" y1="232.50" x2="38.60" y2="276.10" stroke="#888" stroke-width="0.5" />
<line x1="20.80" y1="258.10" x2="64.70" y2="258.10" stroke="#888" stroke-width="0.5" />
<line x1="42.50" y1="232.50" x2="38.80" y2="258.10" stroke="#de5a66" stroke-width="0.7" />
<path d="M38.60,258.10 Q51.80,257.20 64.70,254.50" stroke="#de5a66" stroke-width="0.7" fill="none"/>
<text x="50.91" y="238.80" font-size="6.50" fill="#d4262c" textLength="13.18" lengthAdjust="spacingAndGlyphs" font-weight="bold" stroke="#d4262c" stroke-width="0.22" >19.2</text>
<text x="22.30" y="235.80" font-size="2.4" fill="#111" stroke="#111" stroke-width="0.15">Q1</text>
<text x="22.30" y="238.10" font-size="2.4" fill="#111" stroke="#111" stroke-width="0.15">0.9</text>
<text x="22.30" y="272.50" font-size="2.4" fill="#111" stroke="#111" stroke-width="0.15">Q1</text>
<text x="22.30" y="274.80" font-size="2.4" fill="#111" stroke="#111" stroke-width="0.15">0.9</text>
<text x="59.90" y="272.50" font-size="2.4" fill="#111" stroke="#111" stroke-width="0.15">Q1</text>
<text x="59.90" y="274.80" font-size="2.4" fill="#111" stroke="#111" stroke-width="0.15">0.9</text>
<line x1="20.50" y1="263.02" x2="20.50" y2="264.22" stroke="#222" stroke-width="0.8" />
<line x1="31.77" y1="276.40" x2="32.98" y2="276.40" stroke="#222" stroke-width="0.8" />
<clipPath id="dc11"><rect x="67.65" y="232.50" width="43.90" height="43.60"/></clipPath>
<g filter="url(#grain)"><g clip-path="url(#dc11)">
<ellipse cx="77.00" cy="243.00" rx="6.00" ry="4.50" fill="#000" fill-opacity="0.45"/>
<ellipse cx="95.50" cy="247.50" rx="5.50" ry="5.50" fill="#000" fill-opacity="0.7"/>
<ellipse cx="88.00" cy="247.00" rx="13.00" ry="8.00" fill="#000" fill-opacity="0.25"/>
</g></g>
<rect x="67.65" y="232.50" width="43.90" height="43.60" fill="none" stroke="#8a8a8a" stroke-width="0.6"/>
<line x1="85.45" y1="232.50" x2="85.45" y2="276.10" stroke="#888" stroke-width="0.5" />
<line x1="67.65" y1="258.10" x2="111.55" y2="258.10" stroke="#888" stroke-width="0.5" />
<line x1="89.35" y1="232.50" x2="85.65" y2="258.10" stroke="#de5a66" stroke-width="0.7" />
<path d="M85.45,258.10 Q98.65,257.20 111.55,254.50" stroke="#de5a66" stroke-width="0.7" fill="none"/>
<text x="97.76" y="238.80" font-size="6.50" fill="#d4262c" textLength="13.18" lengthAdjust="spacingAndGlyphs" font-weight="bold" stroke="#d4262c" stroke-width="0.22" >68.5</text>
<text x="69.15" y="235.80" font-size="2.4" fill="#111" stroke="#111" stroke-width="0.15">Q1</text>
<text x="69.15" y="238.10" font-size="2.4" fill="#111" stroke="#111" stroke-width="0.15">0.9</text>
<text x="69.15" y="272.50" font-size="2.4" fill="#111" stroke="#111" stroke-width="0.15">Q1</text>
<text x="69.15" y="274.80" font-size="2.4" fill="#111" stroke="#111" stroke-width="0.15">0.9</text>
<text x="106.75" y="272.50" font-size="2.4" fill="#111" stroke="#111" stroke-width="0.15">Q1</text>
<text x="106.75" y="274.80" font-size="2.4" fill="#111" stroke="#111" stroke-width="0.15">0.9</text>
<line x1="67.35" y1="263.02" x2="67.35" y2="264.22" stroke="#222" stroke-width="0.8" />
<line x1="78.62" y1="276.40" x2="79.83" y2="276.40" stroke="#222" stroke-width="0.8" />
<clipPath id="dc12"><rect x="114.50" y="232.50" width="43.90" height="43.60"/></clipPath>
<g filter="url(#grain)"><g clip-path="url(#dc12)">
<ellipse cx="125.00" cy="244.00" rx="6.00" ry="4.50" fill="#000" fill-opacity="0.4"/>
<ellipse cx="140.60" cy="246.60" rx="5.50" ry="6.00" fill="#000" fill-opacity="0.9"/>
<ellipse cx="136.00" cy="248.00" rx="12.00" ry="9.00" fill="#000" fill-opacity="0.25"/>
<ellipse cx="145.00" cy="256.00" rx="2.50" ry="2.50" fill="#000" fill-opacity="0.3"/>
</g></g>
<rect x="114.50" y="232.50" width="43.90" height="43.60" fill="none" stroke="#8a8a8a" stroke-width="0.6"/>
<line x1="132.30" y1="232.50" x2="132.30" y2="276.10" stroke="#888" stroke-width="0.5" />
<line x1="114.50" y1="258.10" x2="158.40" y2="258.10" stroke="#888" stroke-width="0.5" />
<line x1="136.20" y1="232.50" x2="132.50" y2="258.10" stroke="#de5a66" stroke-width="0.7" />
<path d="M132.30,258.10 Q145.50,257.20 158.40,254.50" stroke="#de5a66" stroke-width="0.7" fill="none"/>
<text x="144.61" y="238.80" font-size="6.50" fill="#d4262c" textLength="13.18" lengthAdjust="spacingAndGlyphs" font-weight="bold" stroke="#d4262c" stroke-width="0.22" >85.0</text>
<text x="116.00" y="235.80" font-size="2.4" fill="#111" stroke="#111" stroke-width="0.15">Q1</text>
<text x="116.00" y="238.10" font-size="2.4" fill="#111" stroke="#111" stroke-width="0.15">0.9</text>
<text x="116.00" y="272.50" font-size="2.4" fill="#111" stroke="#111" stroke-width="0.15">Q1</text>
<text x="116.00" y="274.80" font-size="2.4" fill="#111" stroke="#111" stroke-width="0.15">0.9</text>
<text x="153.60" y="272.50" font-size="2.4" fill="#111" stroke="#111" stroke-width="0.15">Q1</text>
<text x="153.60" y="274.80" font-size="2.4" fill="#111" stroke="#111" stroke-width="0.15">0.9</text>
<line x1="114.20" y1="263.02" x2="114.20" y2="264.22" stroke="#222" stroke-width="0.8" />
<line x1="125.47" y1="276.40" x2="126.67" y2="276.40" stroke="#222" stroke-width="0.8" />
<clipPath id="dc13"><rect x="161.35" y="232.50" width="43.90" height="43.60"/></clipPath>
<g filter="url(#grain)"><g clip-path="url(#dc13)">
<ellipse cx="171.00" cy="252.00" rx="6.00" ry="4.50" fill="#000" fill-opacity="0.95"/>
<ellipse cx="181.00" cy="254.00" rx="4.50" ry="3.50" fill="#000" fill-opacity="0.7"/>
<ellipse cx="189.50" cy="262.00" rx="3.00" ry="3.00" fill="#000" fill-opacity="0.7"/>
<ellipse cx="178.00" cy="254.00" rx="13.00" ry="8.00" fill="#000" fill-opacity="0.25" transform="rotate(15 178.00 254.00)"/>
</g></g>
<rect x="161.35" y="232.50" width="43.90" height="43.60" fill="none" stroke="#8a8a8a" stroke-width="0.6"/>
<line x1="179.15" y1="232.50" x2="179.15" y2="276.10" stroke="#888" stroke-width="0.5" />
<line x1="161.35" y1="258.10" x2="205.25" y2="258.10" stroke="#888" stroke-width="0.5" />
<line x1="183.05" y1="232.50" x2="179.35" y2="258.10" stroke="#de5a66" stroke-width="0.7" />
<path d="M179.15,258.10 Q192.35,257.20 205.25,254.50" stroke="#de5a66" stroke-width="0.7" fill="none"/>
<text x="191.46" y="238.80" font-size="6.50" fill="#d4262c" textLength="13.18" lengthAdjust="spacingAndGlyphs" font-weight="bold" stroke="#d4262c" stroke-width="0.22" >17.6</text>
<text x="162.85" y="235.80" font-size="2.4" fill="#111" stroke="#111" stroke-width="0.15">Q1</text>
<text x="162.85" y="238.10" font-size="2.4" fill="#111" stroke="#111" stroke-width="0.15">0.9</text>
<text x="162.85" y="272.50" font-size="2.4" fill="#111" stroke="#111" stroke-width="0.15">Q1</text>
<text x="162.85" y="274.80" font-size="2.4" fill="#111" stroke="#111" stroke-width="0.15">0.9</text>
<text x="200.45" y="272.50" font-size="2.4" fill="#111" stroke="#111" stroke-width="0.15">Q1</text>
<text x="200.45" y="274.80" font-size="2.4" fill="#111" stroke="#111" stroke-width="0.15">0.9</text>
<line x1="161.05" y1="263.02" x2="161.05" y2="264.22" stroke="#222" stroke-width="0.8" />
<line x1="172.33" y1="276.40" x2="173.53" y2="276.40" stroke="#222" stroke-width="0.8" />
<clipPath id="dc14"><rect x="208.20" y="232.50" width="43.90" height="43.60"/></clipPath>
<g filter="url(#grain)"><g clip-path="url(#dc14)">
<ellipse cx="215.50" cy="250.50" rx="6.50" ry="4.00" fill="#000" fill-opacity="0.92"/>
<ellipse cx="227.00" cy="252.00" rx="6.00" ry="4.00" fill="#000" fill-opacity="0.5"/>
<ellipse cx="235.50" cy="262.00" rx="2.80" ry="2.80" fill="#000" fill-opacity="0.5"/>
<ellipse cx="225.00" cy="253.00" rx="12.00" ry="8.00" fill="#000" fill-opacity="0.2"/>
</g></g>
<rect x="208.20" y="232.50" width="43.90" height="43.60" fill="none" stroke="#8a8a8a" stroke-width="0.6"/>
<line x1="226.00" y1="232.50" x2="226.00" y2="276.10" stroke="#888" stroke-width="0.5" />
<line x1="208.20" y1="258.10" x2="252.10" y2="258.10" stroke="#888" stroke-width="0.5" />
<line x1="229.90" y1="232.50" x2="226.20" y2="258.10" stroke="#de5a66" stroke-width="0.7" />
<path d="M226.00,258.10 Q239.20,257.20 252.10,254.50" stroke="#de5a66" stroke-width="0.7" fill="none"/>
<text x="238.31" y="238.80" font-size="6.50" fill="#d4262c" textLength="13.18" lengthAdjust="spacingAndGlyphs" font-weight="bold" stroke="#d4262c" stroke-width="0.22" >20.0</text>
<text x="209.70" y="235.80" font-size="2.4" fill="#111" stroke="#111" stroke-width="0.15">Q1</text>
<text x="209.70" y="238.10" font-size="2.4" fill="#111" stroke="#111" stroke-width="0.15">0.9</text>
<text x="209.70" y="272.50" font-size="2.4" fill="#111" stroke="#111" stroke-width="0.15">Q1</text>
<text x="209.70" y="274.80" font-size="2.4" fill="#111" stroke="#111" stroke-width="0.15">0.9</text>
<text x="247.30" y="272.50" font-size="2.4" fill="#111" stroke="#111" stroke-width="0.15">Q1</text>
<text x="247.30" y="274.80" font-size="2.4" fill="#111" stroke="#111" stroke-width="0.15">0.9</text>
<line x1="207.90" y1="263.02" x2="207.90" y2="264.22" stroke="#222" stroke-width="0.8" />
<line x1="219.18" y1="276.40" x2="220.38" y2="276.40" stroke="#222" stroke-width="0.8" />
<clipPath id="dc15"><rect x="255.05" y="232.50" width="43.90" height="43.60"/></clipPath>
<g filter="url(#grain)"><g clip-path="url(#dc15)">
<ellipse cx="264.00" cy="246.00" rx="7.00" ry="5.50" fill="#000" fill-opacity="0.4"/>
<ellipse cx="279.80" cy="250.30" rx="3.50" ry="4.00" fill="#000" fill-opacity="0.2"/>
<ellipse cx="283.50" cy="262.30" rx="2.50" ry="2.50" fill="#000" fill-opacity="0.3"/>
</g></g>
<rect x="255.05" y="232.50" width="43.90" height="43.60" fill="none" stroke="#8a8a8a" stroke-width="0.6"/>
<line x1="272.85" y1="232.50" x2="272.85" y2="276.10" stroke="#888" stroke-width="0.5" />
<line x1="255.05" y1="258.10" x2="298.95" y2="258.10" stroke="#888" stroke-width="0.5" />
<line x1="276.75" y1="232.50" x2="273.05" y2="258.10" stroke="#de5a66" stroke-width="0.7" />
<path d="M272.85,258.10 Q286.05,257.20 298.95,254.50" stroke="#de5a66" stroke-width="0.7" fill="none"/>
<text x="285.16" y="238.80" font-size="6.50" fill="#d4262c" textLength="13.18" lengthAdjust="spacingAndGlyphs" font-weight="bold" stroke="#d4262c" stroke-width="0.22" >24.7</text>
<text x="256.55" y="235.80" font-size="2.4" fill="#111" stroke="#111" stroke-width="0.15">Q1</text>
<text x="256.55" y="238.10" font-size="2.4" fill="#111" stroke="#111" stroke-width="0.15">0.9</text>
<text x="256.55" y="272.50" font-size="2.4" fill="#111" stroke="#111" stroke-width="0.15">Q1</text>
<text x="256.55" y="274.80" font-size="2.4" fill="#111" stroke="#111" stroke-width="0.15">0.9</text>
<text x="294.15" y="272.50" font-size="2.4" fill="#111" stroke="#111" stroke-width="0.15">Q1</text>
<text x="294.15" y="274.80" font-size="2.4" fill="#111" stroke="#111" stroke-width="0.15">0.9</text>
<line x1="254.75" y1="263.02" x2="254.75" y2="264.22" stroke="#222" stroke-width="0.8" />
<line x1="266.03" y1="276.40" x2="267.23" y2="276.40" stroke="#222" stroke-width="0.8" />
<text x="308.30" y="228.76" font-size="7.63" fill="#1e1e1e" textLength="41.72" lengthAdjust="spacingAndGlyphs" transform="rotate(-90 308.30 228.76)" stroke="#1e1e1e" stroke-width="0.03">Bone Marrow</text>
<text x="308.00" y="269.68" font-size="7.92" fill="#1e1e1e" textLength="21.85" lengthAdjust="spacingAndGlyphs" transform="rotate(-90 308.00 269.68)" stroke="#1e1e1e" stroke-width="0.05">Spleen</text>
<text x="15.60" y="276.45" font-size="10.83" fill="#1e1e1e" textLength="18.80" lengthAdjust="spacingAndGlyphs" transform="rotate(-90 15.60 276.45)" stroke="#1e1e1e" stroke-width="0.13">CD71</text>
<text x="21.04" y="287.60" font-size="10.97" fill="#1e1e1e" textLength="24.82" lengthAdjust="spacingAndGlyphs" stroke="#1e1e1e" stroke-width="0.11" >CD150</text>
<text x="331.50" y="170.60" font-size="11.70" fill="#111" textLength="7.00" lengthAdjust="spacingAndGlyphs" font-weight="bold" stroke="#111" stroke-width="0.05" >E</text>
<line x1="371.00" y1="190.75" x2="371.00" y2="277.50" stroke="#1a1a1a" stroke-width="1.1" />
<line x1="371.00" y1="277.50" x2="470.50" y2="277.50" stroke="#1a1a1a" stroke-width="1.1" />
<line x1="368.00" y1="277.50" x2="371.00" y2="277.50" stroke="#1a1a1a" stroke-width="0.8" />
<text x="365.00" y="280.00" font-size="8.0" fill="#1e1e1e" text-anchor="end" stroke="#1e1e1e" stroke-width="0.05">0</text>
<line x1="368.00" y1="260.25" x2="371.00" y2="260.25" stroke="#1a1a1a" stroke-width="0.8" />
<text x="365.00" y="262.75" font-size="8.0" fill="#1e1e1e" text-anchor="end" stroke="#1e1e1e" stroke-width="0.05">20</text>
<line x1="368.00" y1="243.00" x2="371.00" y2="243.00" stroke="#1a1a1a" stroke-width="0.8" />
<text x="365.00" y="245.50" font-size="8.0" fill="#1e1e1e" text-anchor="end" stroke="#1e1e1e" stroke-width="0.05">40</text>
<line x1="368.00" y1="225.75" x2="371.00" y2="225.75" stroke="#1a1a1a" stroke-width="0.8" />
<text x="365.00" y="228.25" font-size="8.0" fill="#1e1e1e" text-anchor="end" stroke="#1e1e1e" stroke-width="0.05">60</text>
<line x1="368.00" y1="208.50" x2="371.00" y2="208.50" stroke="#1a1a1a" stroke-width="0.8" />
<text x="365.00" y="211.00" font-size="8.0" fill="#1e1e1e" text-anchor="end" stroke="#1e1e1e" stroke-width="0.05">80</text>
<line x1="368.00" y1="191.25" x2="371.00" y2="191.25" stroke="#1a1a1a" stroke-width="0.8" />
<text x="365.00" y="193.75" font-size="8.0" fill="#1e1e1e" text-anchor="end" stroke="#1e1e1e" stroke-width="0.05">100</text>
<line x1="377.85" y1="265.43" x2="377.85" y2="264.39" stroke="#222" stroke-width="0.7" />
<line x1="376.60" y1="264.39" x2="379.10" y2="264.39" stroke="#222" stroke-width="0.7" />
<rect x="375.00" y="265.43" width="5.7" height="12.07" fill="#c8102e"/>
<line x1="385.05" y1="216.26" x2="385.05" y2="211.52" stroke="#222" stroke-width="0.7" />
<line x1="383.80" y1="211.52" x2="386.30" y2="211.52" stroke="#222" stroke-width="0.7" />
<rect x="382.20" y="216.26" width="5.7" height="61.24" fill="#c8102e"/>
<circle cx="383.45" cy="207.52" r="0.8" fill="#2a2a2a"/>
<circle cx="386.65" cy="207.52" r="0.8" fill="#2a2a2a"/>
<line x1="392.75" y1="216.26" x2="392.75" y2="211.95" stroke="#222" stroke-width="0.7" />
<line x1="391.50" y1="211.95" x2="394.00" y2="211.95" stroke="#222" stroke-width="0.7" />
<rect x="389.90" y="216.26" width="5.7" height="61.24" fill="#c8102e"/>
<circle cx="391.15" cy="207.95" r="0.8" fill="#2a2a2a"/>
<circle cx="394.35" cy="207.95" r="0.8" fill="#2a2a2a"/>
<line x1="400.25" y1="261.98" x2="400.25" y2="254.21" stroke="#222" stroke-width="0.7" />
<line x1="399.00" y1="254.21" x2="401.50" y2="254.21" stroke="#222" stroke-width="0.7" />
<rect x="397.40" y="261.98" width="5.7" height="15.52" fill="#c8102e"/>
<line x1="407.45" y1="267.15" x2="407.45" y2="258.52" stroke="#222" stroke-width="0.7" />
<line x1="406.20" y1="258.52" x2="408.70" y2="258.52" stroke="#222" stroke-width="0.7" />
<rect x="404.60" y="267.15" width="5.7" height="10.35" fill="#c8102e"/>
<line x1="414.45" y1="261.11" x2="414.45" y2="258.52" stroke="#222" stroke-width="0.7" />
<line x1="413.20" y1="258.52" x2="415.70" y2="258.52" stroke="#222" stroke-width="0.7" />
<rect x="411.60" y="261.11" width="5.7" height="16.39" fill="#c8102e"/>
<line x1="427.45" y1="262.84" x2="427.45" y2="258.52" stroke="#222" stroke-width="0.7" />
<line x1="426.20" y1="258.52" x2="428.70" y2="258.52" stroke="#222" stroke-width="0.7" />
<rect x="424.60" y="262.84" width="5.7" height="14.66" fill="#c8102e"/>
<line x1="434.85" y1="213.68" x2="434.85" y2="208.93" stroke="#222" stroke-width="0.7" />
<line x1="433.60" y1="208.93" x2="436.10" y2="208.93" stroke="#222" stroke-width="0.7" />
<rect x="432.00" y="213.68" width="5.7" height="63.82" fill="#c8102e"/>
<circle cx="433.25" cy="204.93" r="0.8" fill="#2a2a2a"/>
<circle cx="436.45" cy="204.93" r="0.8" fill="#2a2a2a"/>
<line x1="442.15" y1="206.77" x2="442.15" y2="201.17" stroke="#222" stroke-width="0.7" />
<line x1="440.90" y1="201.17" x2="443.40" y2="201.17" stroke="#222" stroke-width="0.7" />
<rect x="439.30" y="206.77" width="5.7" height="70.73" fill="#c8102e"/>
<circle cx="440.55" cy="197.17" r="0.8" fill="#2a2a2a"/>
<circle cx="443.75" cy="197.17" r="0.8" fill="#2a2a2a"/>
<line x1="449.45" y1="261.98" x2="449.45" y2="259.82" stroke="#222" stroke-width="0.7" />
<line x1="448.20" y1="259.82" x2="450.70" y2="259.82" stroke="#222" stroke-width="0.7" />
<rect x="446.60" y="261.98" width="5.7" height="15.52" fill="#c8102e"/>
<line x1="456.45" y1="261.11" x2="456.45" y2="256.80" stroke="#222" stroke-width="0.7" />
<line x1="455.20" y1="256.80" x2="457.70" y2="256.80" stroke="#222" stroke-width="0.7" />
<rect x="453.60" y="261.11" width="5.7" height="16.39" fill="#c8102e"/>
<line x1="463.85" y1="254.21" x2="463.85" y2="252.06" stroke="#222" stroke-width="0.7" />
<line x1="462.60" y1="252.06" x2="465.10" y2="252.06" stroke="#222" stroke-width="0.7" />
<rect x="461.00" y="254.21" width="5.7" height="23.29" fill="#c8102e"/>
<line x1="377.50" y1="184.60" x2="418.00" y2="184.60" stroke="#444" stroke-width="1.1" />
<line x1="428.70" y1="184.60" x2="469.30" y2="184.60" stroke="#444" stroke-width="1.1" />
<text x="390.83" y="179.70" font-size="7.78" fill="#1e1e1e" textLength="13.43" lengthAdjust="spacingAndGlyphs" >BM</text>
<text x="443.03" y="179.70" font-size="7.78" fill="#1e1e1e" textLength="10.93" lengthAdjust="spacingAndGlyphs" >SP</text>
<text x="375.40" y="287.60" font-size="7.0" fill="#1e1e1e" textLength="41.60" lengthAdjust="spacingAndGlyphs">0 1 2 4 6 9</text>
<text x="424.80" y="287.60" font-size="7.0" fill="#1e1e1e" textLength="41.60" lengthAdjust="spacingAndGlyphs">0 1 2 4 6 9</text>
<text x="411.23" y="300.40" font-size="9.52" fill="#1e1e1e" textLength="19.34" lengthAdjust="spacingAndGlyphs" stroke="#1e1e1e" stroke-width="0.07" >(Day)</text>
<text x="345.40" y="248.83" font-size="7.19" fill="#1e1e1e" textLength="32.26" lengthAdjust="spacingAndGlyphs" transform="rotate(-90 345.40 248.83)" stroke="#1e1e1e" stroke-width="0.02">sCFU-E %</text>
<text x="1.29" y="311.30" font-size="10.10" fill="#111" textLength="6.91" lengthAdjust="spacingAndGlyphs" font-weight="bold" stroke="#111" stroke-width="0.05" >F</text>
<text x="36.41" y="318.20" font-size="9.81" fill="#1e1e1e" textLength="59.18" lengthAdjust="spacingAndGlyphs" >Bone Marrow</text>
<line x1="29.30" y1="323.20" x2="29.30" y2="379.00" stroke="#1a1a1a" stroke-width="1.1" />
<line x1="26.30" y1="378.50" x2="29.30" y2="378.50" stroke="#1a1a1a" stroke-width="0.8" />
<text x="23.30" y="381.00" font-size="8.2" fill="#1e1e1e" text-anchor="end" stroke="#1e1e1e" stroke-width="0.05">0</text>
<line x1="26.30" y1="361.00" x2="29.30" y2="361.00" stroke="#1a1a1a" stroke-width="0.8" />
<text x="23.30" y="363.50" font-size="8.2" fill="#1e1e1e" text-anchor="end" stroke="#1e1e1e" stroke-width="0.05">1</text>
<line x1="26.30" y1="343.50" x2="29.30" y2="343.50" stroke="#1a1a1a" stroke-width="0.8" />
<text x="23.30" y="346.00" font-size="8.2" fill="#1e1e1e" text-anchor="end" stroke="#1e1e1e" stroke-width="0.05">2</text>
<line x1="26.30" y1="326.00" x2="29.30" y2="326.00" stroke="#1a1a1a" stroke-width="0.8" />
<text x="23.30" y="328.50" font-size="8.2" fill="#1e1e1e" text-anchor="end" stroke="#1e1e1e" stroke-width="0.05">3</text>
<polyline points="29.30,378.50 36.32,356.80 43.34,340.88 57.38,371.15 71.42,374.12 92.48,373.60" fill="none" stroke="#3e9e3c" stroke-width="0.9" stroke-linejoin="round"/>
<line x1="43.34" y1="344.73" x2="43.34" y2="337.02" stroke="#333" stroke-width="0.7" />
<line x1="42.04" y1="337.02" x2="44.64" y2="337.02" stroke="#333" stroke-width="0.7" />
<line x1="42.04" y1="344.73" x2="44.64" y2="344.73" stroke="#333" stroke-width="0.7" />
<line x1="57.38" y1="373.25" x2="57.38" y2="369.05" stroke="#333" stroke-width="0.7" />
<line x1="56.08" y1="369.05" x2="58.68" y2="369.05" stroke="#333" stroke-width="0.7" />
<line x1="56.08" y1="373.25" x2="58.68" y2="373.25" stroke="#333" stroke-width="0.7" />
<circle cx="29.30" cy="378.50" r="1.9" fill="#3a9a3a"/>
<circle cx="36.32" cy="356.80" r="1.9" fill="#3a9a3a"/>
<circle cx="43.34" cy="340.88" r="1.9" fill="#3a9a3a"/>
<circle cx="57.38" cy="371.15" r="1.9" fill="#3a9a3a"/>
<circle cx="71.42" cy="374.12" r="1.9" fill="#3a9a3a"/>
<circle cx="92.48" cy="373.60" r="1.9" fill="#3a9a3a"/>
<polyline points="29.30,364.68 36.32,373.25 43.34,367.30 57.38,358.20 71.42,358.55 92.48,361.00" fill="none" stroke="#f2a43a" stroke-width="0.9" stroke-linejoin="round"/>
<line x1="57.38" y1="363.45" x2="57.38" y2="352.95" stroke="#333" stroke-width="0.7" />
<line x1="56.08" y1="352.95" x2="58.68" y2="352.95" stroke="#333" stroke-width="0.7" />
<line x1="56.08" y1="363.45" x2="58.68" y2="363.45" stroke="#333" stroke-width="0.7" />
<line x1="71.42" y1="362.40" x2="71.42" y2="354.70" stroke="#333" stroke-width="0.7" />
<line x1="70.12" y1="354.70" x2="72.72" y2="354.70" stroke="#333" stroke-width="0.7" />
<line x1="70.12" y1="362.40" x2="72.72" y2="362.40" stroke="#333" stroke-width="0.7" />
<circle cx="29.30" cy="364.68" r="2.0" fill="#f0a030"/>
<circle cx="36.32" cy="373.25" r="2.0" fill="#f0a030"/>
<circle cx="43.34" cy="367.30" r="2.0" fill="#f0a030"/>
<circle cx="57.38" cy="358.20" r="2.0" fill="#f0a030"/>
<circle cx="71.42" cy="358.55" r="2.0" fill="#f0a030"/>
<circle cx="92.48" cy="361.00" r="2.0" fill="#f0a030"/>
<polyline points="29.30,375.18 36.32,375.35 43.34,375.00 57.38,375.00 71.42,374.65 92.48,372.55" fill="none" stroke="#7a58aa" stroke-width="0.9" stroke-linejoin="round"/>
<line x1="71.42" y1="377.27" x2="71.42" y2="372.02" stroke="#333" stroke-width="0.7" />
<line x1="70.12" y1="372.02" x2="72.72" y2="372.02" stroke="#333" stroke-width="0.7" />
<line x1="70.12" y1="377.27" x2="72.72" y2="377.27" stroke="#333" stroke-width="0.7" />
<circle cx="29.30" cy="375.18" r="1.8" fill="#3a2470"/>
<circle cx="36.32" cy="375.35" r="1.8" fill="#3a2470"/>
<circle cx="43.34" cy="375.00" r="1.8" fill="#3a2470"/>
<circle cx="57.38" cy="375.00" r="1.8" fill="#3a2470"/>
<circle cx="71.42" cy="374.65" r="1.8" fill="#3a2470"/>
<circle cx="92.48" cy="372.55" r="1.8" fill="#3a2470"/>
<line x1="28.80" y1="378.90" x2="102.10" y2="378.90" stroke="#22223a" stroke-width="1.4" />
<line x1="29.30" y1="378.50" x2="29.30" y2="381.30" stroke="#1a1a1a" stroke-width="0.8" />
<line x1="43.34" y1="378.50" x2="43.34" y2="381.30" stroke="#1a1a1a" stroke-width="0.8" />
<line x1="57.38" y1="378.50" x2="57.38" y2="381.30" stroke="#1a1a1a" stroke-width="0.8" />
<line x1="71.42" y1="378.50" x2="71.42" y2="381.30" stroke="#1a1a1a" stroke-width="0.8" />
<line x1="85.46" y1="378.50" x2="85.46" y2="381.30" stroke="#1a1a1a" stroke-width="0.8" />
<line x1="99.50" y1="378.50" x2="99.50" y2="381.30" stroke="#1a1a1a" stroke-width="0.8" />
<line x1="29.30" y1="393.70" x2="29.30" y2="452.40" stroke="#1a1a1a" stroke-width="1.1" />
<line x1="26.30" y1="451.90" x2="29.30" y2="451.90" stroke="#1a1a1a" stroke-width="0.8" />
<text x="23.30" y="454.40" font-size="8.2" fill="#1e1e1e" text-anchor="end" stroke="#1e1e1e" stroke-width="0.05">0</text>
<line x1="26.30" y1="424.20" x2="29.30" y2="424.20" stroke="#1a1a1a" stroke-width="0.8" />
<text x="23.30" y="426.70" font-size="8.2" fill="#1e1e1e" text-anchor="end" stroke="#1e1e1e" stroke-width="0.05">30</text>
<line x1="26.30" y1="396.50" x2="29.30" y2="396.50" stroke="#1a1a1a" stroke-width="0.8" />
<text x="23.30" y="399.00" font-size="8.2" fill="#1e1e1e" text-anchor="end" stroke="#1e1e1e" stroke-width="0.05">60</text>
<line x1="28.80" y1="451.90" x2="102.10" y2="451.90" stroke="#1a1a1a" stroke-width="1.3" />
<line x1="29.30" y1="451.90" x2="29.30" y2="454.70" stroke="#1a1a1a" stroke-width="0.8" />
<text x="29.30" y="465.00" font-size="8.2" fill="#1e1e1e" text-anchor="middle" stroke="#1e1e1e" stroke-width="0.05">0</text>
<line x1="43.34" y1="451.90" x2="43.34" y2="454.70" stroke="#1a1a1a" stroke-width="0.8" />
<text x="43.34" y="465.00" font-size="8.2" fill="#1e1e1e" text-anchor="middle" stroke="#1e1e1e" stroke-width="0.05">2</text>
<line x1="57.38" y1="451.90" x2="57.38" y2="454.70" stroke="#1a1a1a" stroke-width="0.8" />
<text x="57.38" y="465.00" font-size="8.2" fill="#1e1e1e" text-anchor="middle" stroke="#1e1e1e" stroke-width="0.05">4</text>
<line x1="71.42" y1="451.90" x2="71.42" y2="454.70" stroke="#1a1a1a" stroke-width="0.8" />
<text x="71.42" y="465.00" font-size="8.2" fill="#1e1e1e" text-anchor="middle" stroke="#1e1e1e" stroke-width="0.05">6</text>
<line x1="85.46" y1="451.90" x2="85.46" y2="454.70" stroke="#1a1a1a" stroke-width="0.8" />
<text x="85.46" y="465.00" font-size="8.2" fill="#1e1e1e" text-anchor="middle" stroke="#1e1e1e" stroke-width="0.05">8</text>
<line x1="99.50" y1="451.90" x2="99.50" y2="454.70" stroke="#1a1a1a" stroke-width="0.8" />
<text x="99.50" y="465.00" font-size="8.2" fill="#1e1e1e" text-anchor="middle" stroke="#1e1e1e" stroke-width="0.05">10</text>
<text x="56.20" y="477.40" font-size="8.36" fill="#1e1e1e" textLength="19.80" lengthAdjust="spacingAndGlyphs" stroke="#1e1e1e" stroke-width="0.01" >(Day)</text>
<polyline points="29.30,421.89 36.32,427.52 43.34,423.74 57.38,409.06 71.42,404.44 92.48,420.32" fill="none" stroke="#ac1a42" stroke-width="1.3" stroke-linejoin="round"/>
<line x1="57.38" y1="414.14" x2="57.38" y2="403.98" stroke="#333" stroke-width="0.7" />
<line x1="56.08" y1="403.98" x2="58.68" y2="403.98" stroke="#333" stroke-width="0.7" />
<line x1="56.08" y1="414.14" x2="58.68" y2="414.14" stroke="#333" stroke-width="0.7" />
<line x1="43.34" y1="426.05" x2="43.34" y2="421.43" stroke="#333" stroke-width="0.7" />
<line x1="42.04" y1="421.43" x2="44.64" y2="421.43" stroke="#333" stroke-width="0.7" />
<line x1="42.04" y1="426.05" x2="44.64" y2="426.05" stroke="#333" stroke-width="0.7" />
<circle cx="29.30" cy="421.89" r="2.3" fill="#c0123c"/>
<circle cx="36.32" cy="427.52" r="2.3" fill="#c0123c"/>
<circle cx="43.34" cy="423.74" r="2.3" fill="#c0123c"/>
<circle cx="57.38" cy="409.06" r="2.3" fill="#c0123c"/>
<circle cx="71.42" cy="404.44" r="2.3" fill="#c0123c"/>
<circle cx="92.48" cy="420.32" r="2.3" fill="#c0123c"/>
<text x="76.86" y="448.00" font-size="8.94" fill="#1e1e1e" textLength="26.27" lengthAdjust="spacingAndGlyphs" stroke="#1e1e1e" stroke-width="0.06" >Ter119<tspan font-size="3.8" dy="-2.6">+</tspan></text>
<circle cx="34.72" cy="347.00" r="0.8" fill="#2a2a2a"/>
<circle cx="37.92" cy="347.00" r="0.8" fill="#2a2a2a"/>
<circle cx="41.74" cy="330.50" r="0.8" fill="#2a2a2a"/>
<circle cx="44.94" cy="330.50" r="0.8" fill="#2a2a2a"/>
<circle cx="36.32" cy="366.60" r="0.8" fill="#2a2a2a"/>
<circle cx="55.78" cy="398.60" r="0.8" fill="#2a2a2a"/>
<circle cx="58.98" cy="398.60" r="0.8" fill="#2a2a2a"/>
<circle cx="69.82" cy="398.60" r="0.8" fill="#2a2a2a"/>
<circle cx="73.02" cy="398.60" r="0.8" fill="#2a2a2a"/>
<text x="55.33" y="340.00" font-size="7.78" fill="#1e1e1e" textLength="25.13" lengthAdjust="spacingAndGlyphs" stroke="#1e1e1e" stroke-width="0.04" >sCFU-E</text>
<line x1="55.00" y1="342.50" x2="51.42" y2="348.30" stroke="#111" stroke-width="1.0" />
<polygon points="50.00,350.60 50.32,347.04 53.04,348.72" fill="#111"/>
<text x="94.13" y="362.90" font-size="7.78" fill="#1e1e1e" textLength="22.83" lengthAdjust="spacingAndGlyphs" stroke="#1e1e1e" stroke-width="0.02" >CFU-E</text>
<text x="94.13" y="374.60" font-size="7.78" fill="#1e1e1e" textLength="22.53" lengthAdjust="spacingAndGlyphs" stroke="#1e1e1e" stroke-width="0.01" >BFU-E</text>
<text x="9.00" y="409.67" font-size="11.12" fill="#1e1e1e" textLength="45.53" lengthAdjust="spacingAndGlyphs" transform="rotate(-90 9.00 409.67)" stroke="#1e1e1e" stroke-width="0.13">% of live cells</text>
<text x="175.71" y="318.20" font-size="9.81" fill="#1e1e1e" textLength="31.18" lengthAdjust="spacingAndGlyphs" >Spleen</text>
<line x1="155.10" y1="323.40" x2="155.10" y2="379.00" stroke="#1a1a1a" stroke-width="1.1" />
<line x1="152.10" y1="378.50" x2="155.10" y2="378.50" stroke="#1a1a1a" stroke-width="0.8" />
<text x="149.10" y="381.00" font-size="8.2" fill="#1e1e1e" text-anchor="end" stroke="#1e1e1e" stroke-width="0.05">0</text>
<line x1="152.10" y1="352.35" x2="155.10" y2="352.35" stroke="#1a1a1a" stroke-width="0.8" />
<text x="149.10" y="354.85" font-size="8.2" fill="#1e1e1e" text-anchor="end" stroke="#1e1e1e" stroke-width="0.05">1</text>
<line x1="152.10" y1="326.20" x2="155.10" y2="326.20" stroke="#1a1a1a" stroke-width="0.8" />
<text x="149.10" y="328.70" font-size="8.2" fill="#1e1e1e" text-anchor="end" stroke="#1e1e1e" stroke-width="0.05">2</text>
<polyline points="155.10,373.27 162.07,378.50 169.04,353.66 182.98,373.27 196.92,374.58 217.83,376.41" fill="none" stroke="#3e9e3c" stroke-width="0.9" stroke-linejoin="round"/>
<line x1="169.04" y1="357.32" x2="169.04" y2="350.00" stroke="#333" stroke-width="0.7" />
<line x1="167.74" y1="350.00" x2="170.34" y2="350.00" stroke="#333" stroke-width="0.7" />
<line x1="167.74" y1="357.32" x2="170.34" y2="357.32" stroke="#333" stroke-width="0.7" />
<line x1="182.98" y1="375.88" x2="182.98" y2="370.65" stroke="#333" stroke-width="0.7" />
<line x1="181.68" y1="370.65" x2="184.28" y2="370.65" stroke="#333" stroke-width="0.7" />
<line x1="181.68" y1="375.88" x2="184.28" y2="375.88" stroke="#333" stroke-width="0.7" />
<circle cx="155.10" cy="373.27" r="1.8" fill="#3a9a3a"/>
<circle cx="162.07" cy="378.50" r="1.8" fill="#3a9a3a"/>
<circle cx="169.04" cy="353.66" r="1.8" fill="#3a9a3a"/>
<circle cx="182.98" cy="373.27" r="1.8" fill="#3a9a3a"/>
<circle cx="196.92" cy="374.58" r="1.8" fill="#3a9a3a"/>
<circle cx="217.83" cy="376.41" r="1.8" fill="#3a9a3a"/>
<polyline points="155.10,369.09 162.07,378.50 169.04,375.62 182.98,366.21 196.92,369.35 217.83,376.41" fill="none" stroke="#f2a43a" stroke-width="0.9" stroke-linejoin="round"/>
<line x1="182.98" y1="371.44" x2="182.98" y2="360.72" stroke="#333" stroke-width="0.7" />
<line x1="181.68" y1="360.72" x2="184.28" y2="360.72" stroke="#333" stroke-width="0.7" />
<line x1="181.68" y1="371.44" x2="184.28" y2="371.44" stroke="#333" stroke-width="0.7" />
<line x1="196.92" y1="371.96" x2="196.92" y2="366.73" stroke="#333" stroke-width="0.7" />
<line x1="195.62" y1="366.73" x2="198.22" y2="366.73" stroke="#333" stroke-width="0.7" />
<line x1="195.62" y1="371.96" x2="198.22" y2="371.96" stroke="#333" stroke-width="0.7" />
<line x1="155.10" y1="371.70" x2="155.10" y2="366.47" stroke="#333" stroke-width="0.7" />
<line x1="153.80" y1="366.47" x2="156.40" y2="366.47" stroke="#333" stroke-width="0.7" />
<line x1="153.80" y1="371.70" x2="156.40" y2="371.70" stroke="#333" stroke-width="0.7" />
<circle cx="155.10" cy="369.09" r="1.9" fill="#f0a030"/>
<circle cx="162.07" cy="378.50" r="1.9" fill="#f0a030"/>
<circle cx="169.04" cy="375.62" r="1.9" fill="#f0a030"/>
<circle cx="182.98" cy="366.21" r="1.9" fill="#f0a030"/>
<circle cx="196.92" cy="369.35" r="1.9" fill="#f0a030"/>
<circle cx="217.83" cy="376.41" r="1.9" fill="#f0a030"/>
<polyline points="155.10,377.19 162.07,378.50 169.04,376.93 182.98,375.88 196.92,376.15 217.83,377.19" fill="none" stroke="#7a58aa" stroke-width="0.9" stroke-linejoin="round"/>
<line x1="155.10" y1="385.04" x2="155.10" y2="369.35" stroke="#333" stroke-width="0.7" />
<line x1="153.80" y1="369.35" x2="156.40" y2="369.35" stroke="#333" stroke-width="0.7" />
<line x1="153.80" y1="385.04" x2="156.40" y2="385.04" stroke="#333" stroke-width="0.7" />
<circle cx="155.10" cy="377.19" r="1.8" fill="#3a2470"/>
<circle cx="162.07" cy="378.50" r="1.8" fill="#3a2470"/>
<circle cx="169.04" cy="376.93" r="1.8" fill="#3a2470"/>
<circle cx="182.98" cy="375.88" r="1.8" fill="#3a2470"/>
<circle cx="196.92" cy="376.15" r="1.8" fill="#3a2470"/>
<circle cx="217.83" cy="377.19" r="1.8" fill="#3a2470"/>
<line x1="154.60" y1="378.90" x2="227.40" y2="378.90" stroke="#22223a" stroke-width="1.4" />
<line x1="155.10" y1="378.50" x2="155.10" y2="381.30" stroke="#1a1a1a" stroke-width="0.8" />
<line x1="169.04" y1="378.50" x2="169.04" y2="381.30" stroke="#1a1a1a" stroke-width="0.8" />
<line x1="182.98" y1="378.50" x2="182.98" y2="381.30" stroke="#1a1a1a" stroke-width="0.8" />
<line x1="196.92" y1="378.50" x2="196.92" y2="381.30" stroke="#1a1a1a" stroke-width="0.8" />
<line x1="210.86" y1="378.50" x2="210.86" y2="381.30" stroke="#1a1a1a" stroke-width="0.8" />
<line x1="224.80" y1="378.50" x2="224.80" y2="381.30" stroke="#1a1a1a" stroke-width="0.8" />
<line x1="155.10" y1="393.44" x2="155.10" y2="452.50" stroke="#1a1a1a" stroke-width="1.1" />
<line x1="152.10" y1="452.00" x2="155.10" y2="452.00" stroke="#1a1a1a" stroke-width="0.8" />
<text x="149.10" y="454.50" font-size="8.2" fill="#1e1e1e" text-anchor="end" stroke="#1e1e1e" stroke-width="0.05">0</text>
<line x1="152.10" y1="424.12" x2="155.10" y2="424.12" stroke="#1a1a1a" stroke-width="0.8" />
<text x="149.10" y="426.62" font-size="8.2" fill="#1e1e1e" text-anchor="end" stroke="#1e1e1e" stroke-width="0.05">40</text>
<line x1="152.10" y1="396.24" x2="155.10" y2="396.24" stroke="#1a1a1a" stroke-width="0.8" />
<text x="149.10" y="398.74" font-size="8.2" fill="#1e1e1e" text-anchor="end" stroke="#1e1e1e" stroke-width="0.05">80</text>
<line x1="154.60" y1="452.00" x2="227.40" y2="452.00" stroke="#1a1a1a" stroke-width="1.3" />
<line x1="155.10" y1="452.00" x2="155.10" y2="454.80" stroke="#1a1a1a" stroke-width="0.8" />
<text x="155.10" y="465.00" font-size="8.2" fill="#1e1e1e" text-anchor="middle" stroke="#1e1e1e" stroke-width="0.05">0</text>
<line x1="169.04" y1="452.00" x2="169.04" y2="454.80" stroke="#1a1a1a" stroke-width="0.8" />
<text x="169.04" y="465.00" font-size="8.2" fill="#1e1e1e" text-anchor="middle" stroke="#1e1e1e" stroke-width="0.05">2</text>
<line x1="182.98" y1="452.00" x2="182.98" y2="454.80" stroke="#1a1a1a" stroke-width="0.8" />
<text x="182.98" y="465.00" font-size="8.2" fill="#1e1e1e" text-anchor="middle" stroke="#1e1e1e" stroke-width="0.05">4</text>
<line x1="196.92" y1="452.00" x2="196.92" y2="454.80" stroke="#1a1a1a" stroke-width="0.8" />
<text x="196.92" y="465.00" font-size="8.2" fill="#1e1e1e" text-anchor="middle" stroke="#1e1e1e" stroke-width="0.05">6</text>
<line x1="210.86" y1="452.00" x2="210.86" y2="454.80" stroke="#1a1a1a" stroke-width="0.8" />
<text x="210.86" y="465.00" font-size="8.2" fill="#1e1e1e" text-anchor="middle" stroke="#1e1e1e" stroke-width="0.05">8</text>
<line x1="224.80" y1="452.00" x2="224.80" y2="454.80" stroke="#1a1a1a" stroke-width="0.8" />
<text x="224.80" y="465.00" font-size="8.2" fill="#1e1e1e" text-anchor="middle" stroke="#1e1e1e" stroke-width="0.05">10</text>
<text x="181.90" y="477.40" font-size="8.36" fill="#1e1e1e" textLength="19.80" lengthAdjust="spacingAndGlyphs" stroke="#1e1e1e" stroke-width="0.01" >(Day)</text>
<polyline points="155.10,429.70 162.07,440.50 169.04,427.61 182.98,404.26 196.92,408.09 217.83,432.48" fill="none" stroke="#ac1a42" stroke-width="1.3" stroke-linejoin="round"/>
<line x1="182.98" y1="408.09" x2="182.98" y2="400.42" stroke="#333" stroke-width="0.7" />
<line x1="181.68" y1="400.42" x2="184.28" y2="400.42" stroke="#333" stroke-width="0.7" />
<line x1="181.68" y1="408.09" x2="184.28" y2="408.09" stroke="#333" stroke-width="0.7" />
<line x1="196.92" y1="411.23" x2="196.92" y2="404.95" stroke="#333" stroke-width="0.7" />
<line x1="195.62" y1="404.95" x2="198.22" y2="404.95" stroke="#333" stroke-width="0.7" />
<line x1="195.62" y1="411.23" x2="198.22" y2="411.23" stroke="#333" stroke-width="0.7" />
<circle cx="155.10" cy="429.70" r="2.3" fill="#c0123c"/>
<circle cx="162.07" cy="440.50" r="2.3" fill="#c0123c"/>
<circle cx="169.04" cy="427.61" r="2.3" fill="#c0123c"/>
<circle cx="182.98" cy="404.26" r="2.3" fill="#c0123c"/>
<circle cx="196.92" cy="408.09" r="2.3" fill="#c0123c"/>
<circle cx="217.83" cy="432.48" r="2.3" fill="#c0123c"/>
<text x="203.51" y="446.80" font-size="8.21" fill="#1e1e1e" textLength="25.29" lengthAdjust="spacingAndGlyphs" stroke="#1e1e1e" stroke-width="0.04" >Ter119<tspan font-size="3.8" dy="-2.6">+</tspan></text>
<circle cx="167.44" cy="344.50" r="0.8" fill="#2a2a2a"/>
<circle cx="170.64" cy="344.50" r="0.8" fill="#2a2a2a"/>
<circle cx="158.90" cy="372.60" r="0.8" fill="#2a2a2a"/>
<circle cx="162.10" cy="372.60" r="0.8" fill="#2a2a2a"/>
<circle cx="176.90" cy="373.60" r="0.8" fill="#2a2a2a"/>
<circle cx="180.10" cy="373.60" r="0.8" fill="#2a2a2a"/>
<circle cx="160.47" cy="428.75" r="0.8" fill="#2a2a2a"/>
<circle cx="163.67" cy="428.75" r="0.8" fill="#2a2a2a"/>
<circle cx="181.38" cy="394.50" r="0.8" fill="#2a2a2a"/>
<circle cx="184.58" cy="394.50" r="0.8" fill="#2a2a2a"/>
<circle cx="195.32" cy="400.50" r="0.8" fill="#2a2a2a"/>
<circle cx="198.52" cy="400.50" r="0.8" fill="#2a2a2a"/>
<text x="178.58" y="343.70" font-size="7.05" fill="#1e1e1e" textLength="25.35" lengthAdjust="spacingAndGlyphs" >sCFU-E</text>
<line x1="178.50" y1="344.50" x2="174.16" y2="351.97" stroke="#111" stroke-width="1.0" />
<polygon points="172.80,354.30 173.03,350.73 175.79,352.34" fill="#111"/>
<text x="189.53" y="359.70" font-size="7.78" fill="#1e1e1e" textLength="22.93" lengthAdjust="spacingAndGlyphs" stroke="#1e1e1e" stroke-width="0.01" >CFU-E</text>
<line x1="190.80" y1="360.20" x2="188.29" y2="363.62" stroke="#111" stroke-width="1.0" />
<polygon points="186.70,365.80 187.30,362.27 189.88,364.16" fill="#111"/>
<text x="220.03" y="378.00" font-size="7.78" fill="#1e1e1e" textLength="22.43" lengthAdjust="spacingAndGlyphs" stroke="#1e1e1e" stroke-width="0.02" >BFU-E</text>
<text x="135.00" y="409.67" font-size="11.12" fill="#1e1e1e" textLength="45.23" lengthAdjust="spacingAndGlyphs" transform="rotate(-90 135.00 409.67)" stroke="#1e1e1e" stroke-width="0.13">% of live cells</text>
<text x="260.44" y="311.20" font-size="10.97" fill="#111" textLength="9.22" lengthAdjust="spacingAndGlyphs" font-weight="bold" stroke="#111" stroke-width="0.05" >G</text>
<text x="302.41" y="318.20" font-size="9.81" fill="#1e1e1e" textLength="60.18" lengthAdjust="spacingAndGlyphs" >Bone Marrow</text>
<line x1="295.80" y1="323.45" x2="295.80" y2="378.70" stroke="#1a1a1a" stroke-width="1.1" />
<line x1="292.80" y1="378.20" x2="295.80" y2="378.20" stroke="#1a1a1a" stroke-width="0.8" />
<text x="289.80" y="380.70" font-size="8.2" fill="#1e1e1e" text-anchor="end" stroke="#1e1e1e" stroke-width="0.05">0</text>
<line x1="292.80" y1="352.22" x2="295.80" y2="352.22" stroke="#1a1a1a" stroke-width="0.8" />
<text x="289.80" y="354.72" font-size="8.2" fill="#1e1e1e" text-anchor="end" stroke="#1e1e1e" stroke-width="0.05">50</text>
<line x1="292.80" y1="326.25" x2="295.80" y2="326.25" stroke="#1a1a1a" stroke-width="0.8" />
<text x="289.80" y="328.75" font-size="8.2" fill="#1e1e1e" text-anchor="end" stroke="#1e1e1e" stroke-width="0.05">100</text>
<polyline points="295.80,369.11 302.76,362.62 309.72,351.19 323.64,374.56 337.56,375.86 358.44,376.12" fill="none" stroke="#3e9e3c" stroke-width="0.9" stroke-linejoin="round"/>
<line x1="302.76" y1="364.17" x2="302.76" y2="361.06" stroke="#333" stroke-width="0.7" />
<line x1="301.46" y1="361.06" x2="304.06" y2="361.06" stroke="#333" stroke-width="0.7" />
<line x1="301.46" y1="364.17" x2="304.06" y2="364.17" stroke="#333" stroke-width="0.7" />
<line x1="309.72" y1="354.30" x2="309.72" y2="348.07" stroke="#333" stroke-width="0.7" />
<line x1="308.42" y1="348.07" x2="311.02" y2="348.07" stroke="#333" stroke-width="0.7" />
<line x1="308.42" y1="354.30" x2="311.02" y2="354.30" stroke="#333" stroke-width="0.7" />
<line x1="323.64" y1="376.64" x2="323.64" y2="368.33" stroke="#333" stroke-width="0.7" />
<line x1="322.34" y1="368.33" x2="324.94" y2="368.33" stroke="#333" stroke-width="0.7" />
<line x1="322.34" y1="376.64" x2="324.94" y2="376.64" stroke="#333" stroke-width="0.7" />
<circle cx="295.80" cy="369.11" r="1.9" fill="#3a9a3a"/>
<circle cx="302.76" cy="362.62" r="1.9" fill="#3a9a3a"/>
<circle cx="309.72" cy="351.19" r="1.9" fill="#3a9a3a"/>
<circle cx="323.64" cy="374.56" r="1.9" fill="#3a9a3a"/>
<circle cx="337.56" cy="375.86" r="1.9" fill="#3a9a3a"/>
<circle cx="358.44" cy="376.12" r="1.9" fill="#3a9a3a"/>
<polyline points="295.80,369.11 302.76,374.30 309.72,371.13 323.64,362.87 337.56,364.23 358.44,366.25" fill="none" stroke="#f2a43a" stroke-width="0.9" stroke-linejoin="round"/>
<line x1="323.64" y1="368.07" x2="323.64" y2="357.68" stroke="#333" stroke-width="0.7" />
<line x1="322.34" y1="357.68" x2="324.94" y2="357.68" stroke="#333" stroke-width="0.7" />
<line x1="322.34" y1="368.07" x2="324.94" y2="368.07" stroke="#333" stroke-width="0.7" />
<line x1="337.56" y1="368.12" x2="337.56" y2="360.33" stroke="#333" stroke-width="0.7" />
<line x1="336.26" y1="360.33" x2="338.86" y2="360.33" stroke="#333" stroke-width="0.7" />
<line x1="336.26" y1="368.12" x2="338.86" y2="368.12" stroke="#333" stroke-width="0.7" />
<circle cx="295.80" cy="369.11" r="2.0" fill="#f0a030"/>
<circle cx="302.76" cy="374.30" r="2.0" fill="#f0a030"/>
<circle cx="309.72" cy="371.13" r="2.0" fill="#f0a030"/>
<circle cx="323.64" cy="362.87" r="2.0" fill="#f0a030"/>
<circle cx="337.56" cy="364.23" r="2.0" fill="#f0a030"/>
<circle cx="358.44" cy="366.25" r="2.0" fill="#f0a030"/>
<polyline points="295.80,376.12 302.76,376.12 309.72,375.86 323.64,375.34 337.56,376.12 358.44,374.30" fill="none" stroke="#7a58aa" stroke-width="0.9" stroke-linejoin="round"/>
<line x1="337.56" y1="378.20" x2="337.56" y2="374.04" stroke="#333" stroke-width="0.7" />
<line x1="336.26" y1="374.04" x2="338.86" y2="374.04" stroke="#333" stroke-width="0.7" />
<line x1="336.26" y1="378.20" x2="338.86" y2="378.20" stroke="#333" stroke-width="0.7" />
<line x1="323.64" y1="376.90" x2="323.64" y2="373.78" stroke="#333" stroke-width="0.7" />
<line x1="322.34" y1="373.78" x2="324.94" y2="373.78" stroke="#333" stroke-width="0.7" />
<line x1="322.34" y1="376.90" x2="324.94" y2="376.90" stroke="#333" stroke-width="0.7" />
<circle cx="295.80" cy="376.12" r="1.9" fill="#3a2470"/>
<circle cx="302.76" cy="376.12" r="1.9" fill="#3a2470"/>
<circle cx="309.72" cy="375.86" r="1.9" fill="#3a2470"/>
<circle cx="323.64" cy="375.34" r="1.9" fill="#3a2470"/>
<circle cx="337.56" cy="376.12" r="1.9" fill="#3a2470"/>
<circle cx="358.44" cy="374.30" r="1.9" fill="#3a2470"/>
<line x1="295.30" y1="378.60" x2="368.00" y2="378.60" stroke="#22223a" stroke-width="1.4" />
<line x1="295.80" y1="378.20" x2="295.80" y2="381.00" stroke="#1a1a1a" stroke-width="0.8" />
<line x1="309.72" y1="378.20" x2="309.72" y2="381.00" stroke="#1a1a1a" stroke-width="0.8" />
<line x1="323.64" y1="378.20" x2="323.64" y2="381.00" stroke="#1a1a1a" stroke-width="0.8" />
<line x1="337.56" y1="378.20" x2="337.56" y2="381.00" stroke="#1a1a1a" stroke-width="0.8" />
<line x1="351.48" y1="378.20" x2="351.48" y2="381.00" stroke="#1a1a1a" stroke-width="0.8" />
<line x1="365.40" y1="378.20" x2="365.40" y2="381.00" stroke="#1a1a1a" stroke-width="0.8" />
<line x1="295.80" y1="394.19" x2="295.80" y2="452.25" stroke="#1a1a1a" stroke-width="1.1" />
<line x1="292.80" y1="451.75" x2="295.80" y2="451.75" stroke="#1a1a1a" stroke-width="0.8" />
<text x="289.80" y="454.25" font-size="8.2" fill="#1e1e1e" text-anchor="end" stroke="#1e1e1e" stroke-width="0.05">0</text>
<line x1="292.80" y1="424.37" x2="295.80" y2="424.37" stroke="#1a1a1a" stroke-width="0.8" />
<text x="289.80" y="426.87" font-size="8.2" fill="#1e1e1e" text-anchor="end" stroke="#1e1e1e" stroke-width="0.05">1000</text>
<line x1="292.80" y1="396.99" x2="295.80" y2="396.99" stroke="#1a1a1a" stroke-width="0.8" />
<text x="289.80" y="399.49" font-size="8.2" fill="#1e1e1e" text-anchor="end" stroke="#1e1e1e" stroke-width="0.05">2000</text>
<line x1="295.30" y1="451.75" x2="366.10" y2="451.75" stroke="#1a1a1a" stroke-width="1.3" />
<line x1="295.80" y1="451.75" x2="295.80" y2="454.55" stroke="#1a1a1a" stroke-width="0.8" />
<text x="295.80" y="465.00" font-size="8.2" fill="#1e1e1e" text-anchor="middle" stroke="#1e1e1e" stroke-width="0.05">0</text>
<line x1="309.34" y1="451.75" x2="309.34" y2="454.55" stroke="#1a1a1a" stroke-width="0.8" />
<text x="309.34" y="465.00" font-size="8.2" fill="#1e1e1e" text-anchor="middle" stroke="#1e1e1e" stroke-width="0.05">2</text>
<line x1="322.88" y1="451.75" x2="322.88" y2="454.55" stroke="#1a1a1a" stroke-width="0.8" />
<text x="322.88" y="465.00" font-size="8.2" fill="#1e1e1e" text-anchor="middle" stroke="#1e1e1e" stroke-width="0.05">4</text>
<line x1="336.42" y1="451.75" x2="336.42" y2="454.55" stroke="#1a1a1a" stroke-width="0.8" />
<text x="336.42" y="465.00" font-size="8.2" fill="#1e1e1e" text-anchor="middle" stroke="#1e1e1e" stroke-width="0.05">6</text>
<line x1="349.96" y1="451.75" x2="349.96" y2="454.55" stroke="#1a1a1a" stroke-width="0.8" />
<text x="349.96" y="465.00" font-size="8.2" fill="#1e1e1e" text-anchor="middle" stroke="#1e1e1e" stroke-width="0.05">8</text>
<line x1="363.50" y1="451.75" x2="363.50" y2="454.55" stroke="#1a1a1a" stroke-width="0.8" />
<text x="363.50" y="465.00" font-size="8.2" fill="#1e1e1e" text-anchor="middle" stroke="#1e1e1e" stroke-width="0.05">10</text>
<text x="321.90" y="477.40" font-size="8.36" fill="#1e1e1e" textLength="19.80" lengthAdjust="spacingAndGlyphs" stroke="#1e1e1e" stroke-width="0.01" >(Day)</text>
<polyline points="295.80,425.00 302.57,427.00 309.34,422.51 322.88,407.50 336.42,408.00 356.73,422.51" fill="none" stroke="#ac1a42" stroke-width="1.3" stroke-linejoin="round"/>
<line x1="322.88" y1="414.62" x2="322.88" y2="400.39" stroke="#333" stroke-width="0.7" />
<line x1="321.58" y1="400.39" x2="324.18" y2="400.39" stroke="#333" stroke-width="0.7" />
<line x1="321.58" y1="414.62" x2="324.18" y2="414.62" stroke="#333" stroke-width="0.7" />
<line x1="336.42" y1="411.83" x2="336.42" y2="404.16" stroke="#333" stroke-width="0.7" />
<line x1="335.12" y1="404.16" x2="337.72" y2="404.16" stroke="#333" stroke-width="0.7" />
<line x1="335.12" y1="411.83" x2="337.72" y2="411.83" stroke="#333" stroke-width="0.7" />
<circle cx="295.80" cy="425.00" r="2.3" fill="#c0123c"/>
<circle cx="302.57" cy="427.00" r="2.3" fill="#c0123c"/>
<circle cx="309.34" cy="422.51" r="2.3" fill="#c0123c"/>
<circle cx="322.88" cy="407.50" r="2.3" fill="#c0123c"/>
<circle cx="336.42" cy="408.00" r="2.3" fill="#c0123c"/>
<circle cx="356.73" cy="422.51" r="2.3" fill="#c0123c"/>
<text x="341.15" y="448.80" font-size="9.23" fill="#1e1e1e" textLength="26.01" lengthAdjust="spacingAndGlyphs" stroke="#1e1e1e" stroke-width="0.07" >Ter119<tspan font-size="3.8" dy="-2.6">+</tspan></text>
<circle cx="301.16" cy="354.60" r="0.8" fill="#2a2a2a"/>
<circle cx="304.36" cy="354.60" r="0.8" fill="#2a2a2a"/>
<circle cx="308.12" cy="340.20" r="0.8" fill="#2a2a2a"/>
<circle cx="311.32" cy="340.20" r="0.8" fill="#2a2a2a"/>
<circle cx="321.28" cy="397.00" r="0.8" fill="#2a2a2a"/>
<circle cx="324.48" cy="397.00" r="0.8" fill="#2a2a2a"/>
<circle cx="334.82" cy="399.50" r="0.8" fill="#2a2a2a"/>
<circle cx="338.02" cy="399.50" r="0.8" fill="#2a2a2a"/>
<text x="320.72" y="343.50" font-size="7.92" fill="#1e1e1e" textLength="25.95" lengthAdjust="spacingAndGlyphs" stroke="#1e1e1e" stroke-width="0.03" >sCFU-E</text>
<line x1="320.60" y1="346.30" x2="317.20" y2="351.89" stroke="#111" stroke-width="1.0" />
<polygon points="315.80,354.20 316.09,350.63 318.83,352.30" fill="#111"/>
<text x="361.09" y="368.80" font-size="8.50" fill="#1e1e1e" textLength="22.52" lengthAdjust="spacingAndGlyphs" stroke="#1e1e1e" stroke-width="0.05" >CFU-E</text>
<text x="361.09" y="376.50" font-size="8.50" fill="#1e1e1e" textLength="22.52" lengthAdjust="spacingAndGlyphs" stroke="#1e1e1e" stroke-width="0.05" >BFU-E</text>
<text x="265.70" y="415.61" font-size="10.10" fill="#1e1e1e" textLength="64.21" lengthAdjust="spacingAndGlyphs" transform="rotate(-90 265.70 415.61)" stroke="#1e1e1e" stroke-width="0.12">Cells/mouse ( × 10<tspan font-size="4.6" dy="-2.6">4</tspan><tspan dy="2.6">)</tspan></text>
<text x="448.71" y="318.20" font-size="9.81" fill="#1e1e1e" textLength="31.18" lengthAdjust="spacingAndGlyphs" >Spleen</text>
<line x1="428.20" y1="323.10" x2="428.20" y2="378.40" stroke="#1a1a1a" stroke-width="1.1" />
<line x1="425.20" y1="377.90" x2="428.20" y2="377.90" stroke="#1a1a1a" stroke-width="0.8" />
<text x="422.20" y="380.40" font-size="8.2" fill="#1e1e1e" text-anchor="end" stroke="#1e1e1e" stroke-width="0.05">0</text>
<line x1="425.20" y1="351.90" x2="428.20" y2="351.90" stroke="#1a1a1a" stroke-width="0.8" />
<text x="422.20" y="354.40" font-size="8.2" fill="#1e1e1e" text-anchor="end" stroke="#1e1e1e" stroke-width="0.05">20</text>
<line x1="425.20" y1="325.90" x2="428.20" y2="325.90" stroke="#1a1a1a" stroke-width="0.8" />
<text x="422.20" y="328.40" font-size="8.2" fill="#1e1e1e" text-anchor="end" stroke="#1e1e1e" stroke-width="0.05">40</text>
<polyline points="428.20,375.04 435.09,377.90 441.98,350.60 455.76,368.28 469.54,374.00 490.21,376.86" fill="none" stroke="#3e9e3c" stroke-width="0.9" stroke-linejoin="round"/>
<line x1="441.98" y1="357.10" x2="441.98" y2="343.45" stroke="#333" stroke-width="0.7" />
<line x1="440.68" y1="343.45" x2="443.28" y2="343.45" stroke="#333" stroke-width="0.7" />
<line x1="440.68" y1="357.10" x2="443.28" y2="357.10" stroke="#333" stroke-width="0.7" />
<line x1="455.76" y1="373.48" x2="455.76" y2="360.48" stroke="#333" stroke-width="0.7" />
<line x1="454.46" y1="360.48" x2="457.06" y2="360.48" stroke="#333" stroke-width="0.7" />
<line x1="454.46" y1="373.48" x2="457.06" y2="373.48" stroke="#333" stroke-width="0.7" />
<circle cx="428.20" cy="375.04" r="1.9" fill="#3a9a3a"/>
<circle cx="435.09" cy="377.90" r="1.9" fill="#3a9a3a"/>
<circle cx="441.98" cy="350.60" r="1.9" fill="#3a9a3a"/>
<circle cx="455.76" cy="368.28" r="1.9" fill="#3a9a3a"/>
<circle cx="469.54" cy="374.00" r="1.9" fill="#3a9a3a"/>
<circle cx="490.21" cy="376.86" r="1.9" fill="#3a9a3a"/>
<polyline points="428.20,371.79 435.09,377.90 441.98,375.04 455.76,353.46 469.54,367.37 490.21,376.60" fill="none" stroke="#f2a43a" stroke-width="0.9" stroke-linejoin="round"/>
<line x1="455.76" y1="369.06" x2="455.76" y2="333.96" stroke="#333" stroke-width="0.7" />
<line x1="454.46" y1="333.96" x2="457.06" y2="333.96" stroke="#333" stroke-width="0.7" />
<line x1="454.46" y1="369.06" x2="457.06" y2="369.06" stroke="#333" stroke-width="0.7" />
<line x1="469.54" y1="374.52" x2="469.54" y2="359.57" stroke="#333" stroke-width="0.7" />
<line x1="468.24" y1="359.57" x2="470.84" y2="359.57" stroke="#333" stroke-width="0.7" />
<line x1="468.24" y1="374.52" x2="470.84" y2="374.52" stroke="#333" stroke-width="0.7" />
<line x1="428.20" y1="373.74" x2="428.20" y2="369.84" stroke="#333" stroke-width="0.7" />
<line x1="426.90" y1="369.84" x2="429.50" y2="369.84" stroke="#333" stroke-width="0.7" />
<line x1="426.90" y1="373.74" x2="429.50" y2="373.74" stroke="#333" stroke-width="0.7" />
<line x1="441.98" y1="376.99" x2="441.98" y2="373.09" stroke="#333" stroke-width="0.7" />
<line x1="440.68" y1="373.09" x2="443.28" y2="373.09" stroke="#333" stroke-width="0.7" />
<line x1="440.68" y1="376.99" x2="443.28" y2="376.99" stroke="#333" stroke-width="0.7" />
<circle cx="428.20" cy="371.79" r="2.0" fill="#f0a030"/>
<circle cx="435.09" cy="377.90" r="2.0" fill="#f0a030"/>
<circle cx="441.98" cy="375.04" r="2.0" fill="#f0a030"/>
<circle cx="455.76" cy="353.46" r="2.0" fill="#f0a030"/>
<circle cx="469.54" cy="367.37" r="2.0" fill="#f0a030"/>
<circle cx="490.21" cy="376.60" r="2.0" fill="#f0a030"/>
<polyline points="428.20,377.25 435.09,377.90 441.98,376.73 455.76,372.70 469.54,375.95 490.21,377.12" fill="none" stroke="#7a58aa" stroke-width="0.9" stroke-linejoin="round"/>
<line x1="455.76" y1="375.30" x2="455.76" y2="370.10" stroke="#333" stroke-width="0.7" />
<line x1="454.46" y1="370.10" x2="457.06" y2="370.10" stroke="#333" stroke-width="0.7" />
<line x1="454.46" y1="375.30" x2="457.06" y2="375.30" stroke="#333" stroke-width="0.7" />
<circle cx="428.20" cy="377.25" r="1.9" fill="#3a2470"/>
<circle cx="435.09" cy="377.90" r="1.9" fill="#3a2470"/>
<circle cx="441.98" cy="376.73" r="1.9" fill="#3a2470"/>
<circle cx="455.76" cy="372.70" r="1.9" fill="#3a2470"/>
<circle cx="469.54" cy="375.95" r="1.9" fill="#3a2470"/>
<circle cx="490.21" cy="377.12" r="1.9" fill="#3a2470"/>
<line x1="427.70" y1="378.30" x2="499.70" y2="378.30" stroke="#22223a" stroke-width="1.4" />
<line x1="428.20" y1="377.90" x2="428.20" y2="380.70" stroke="#1a1a1a" stroke-width="0.8" />
<line x1="441.98" y1="377.90" x2="441.98" y2="380.70" stroke="#1a1a1a" stroke-width="0.8" />
<line x1="455.76" y1="377.90" x2="455.76" y2="380.70" stroke="#1a1a1a" stroke-width="0.8" />
<line x1="469.54" y1="377.90" x2="469.54" y2="380.70" stroke="#1a1a1a" stroke-width="0.8" />
<line x1="483.32" y1="377.90" x2="483.32" y2="380.70" stroke="#1a1a1a" stroke-width="0.8" />
<line x1="497.10" y1="377.90" x2="497.10" y2="380.70" stroke="#1a1a1a" stroke-width="0.8" />
<line x1="428.20" y1="394.19" x2="428.20" y2="452.25" stroke="#1a1a1a" stroke-width="1.1" />
<line x1="425.20" y1="451.75" x2="428.20" y2="451.75" stroke="#1a1a1a" stroke-width="0.8" />
<text x="422.20" y="454.25" font-size="8.2" fill="#1e1e1e" text-anchor="end" stroke="#1e1e1e" stroke-width="0.05">0</text>
<line x1="425.20" y1="424.37" x2="428.20" y2="424.37" stroke="#1a1a1a" stroke-width="0.8" />
<text x="422.20" y="426.87" font-size="8.2" fill="#1e1e1e" text-anchor="end" stroke="#1e1e1e" stroke-width="0.05">2000</text>
<line x1="425.20" y1="396.99" x2="428.20" y2="396.99" stroke="#1a1a1a" stroke-width="0.8" />
<text x="422.20" y="399.49" font-size="8.2" fill="#1e1e1e" text-anchor="end" stroke="#1e1e1e" stroke-width="0.05">4000</text>
<line x1="427.70" y1="451.75" x2="498.10" y2="451.75" stroke="#1a1a1a" stroke-width="1.3" />
<line x1="428.20" y1="451.75" x2="428.20" y2="454.55" stroke="#1a1a1a" stroke-width="0.8" />
<text x="428.20" y="465.00" font-size="8.2" fill="#1e1e1e" text-anchor="middle" stroke="#1e1e1e" stroke-width="0.05">0</text>
<line x1="441.66" y1="451.75" x2="441.66" y2="454.55" stroke="#1a1a1a" stroke-width="0.8" />
<text x="441.66" y="465.00" font-size="8.2" fill="#1e1e1e" text-anchor="middle" stroke="#1e1e1e" stroke-width="0.05">2</text>
<line x1="455.12" y1="451.75" x2="455.12" y2="454.55" stroke="#1a1a1a" stroke-width="0.8" />
<text x="455.12" y="465.00" font-size="8.2" fill="#1e1e1e" text-anchor="middle" stroke="#1e1e1e" stroke-width="0.05">4</text>
<line x1="468.58" y1="451.75" x2="468.58" y2="454.55" stroke="#1a1a1a" stroke-width="0.8" />
<text x="468.58" y="465.00" font-size="8.2" fill="#1e1e1e" text-anchor="middle" stroke="#1e1e1e" stroke-width="0.05">6</text>
<line x1="482.04" y1="451.75" x2="482.04" y2="454.55" stroke="#1a1a1a" stroke-width="0.8" />
<text x="482.04" y="465.00" font-size="8.2" fill="#1e1e1e" text-anchor="middle" stroke="#1e1e1e" stroke-width="0.05">8</text>
<line x1="495.50" y1="451.75" x2="495.50" y2="454.55" stroke="#1a1a1a" stroke-width="0.8" />
<text x="495.50" y="465.00" font-size="8.2" fill="#1e1e1e" text-anchor="middle" stroke="#1e1e1e" stroke-width="0.05">10</text>
<text x="454.10" y="477.40" font-size="8.36" fill="#1e1e1e" textLength="19.80" lengthAdjust="spacingAndGlyphs" stroke="#1e1e1e" stroke-width="0.01" >(Day)</text>
<polyline points="428.20,446.27 434.93,448.74 441.66,443.76 455.12,420.50 468.58,433.75 488.77,447.00" fill="none" stroke="#ac1a42" stroke-width="1.3" stroke-linejoin="round"/>
<line x1="455.12" y1="433.91" x2="455.12" y2="407.35" stroke="#333" stroke-width="0.7" />
<line x1="453.82" y1="407.35" x2="456.42" y2="407.35" stroke="#333" stroke-width="0.7" />
<line x1="453.82" y1="433.91" x2="456.42" y2="433.91" stroke="#333" stroke-width="0.7" />
<line x1="468.58" y1="441.14" x2="468.58" y2="426.36" stroke="#333" stroke-width="0.7" />
<line x1="467.28" y1="426.36" x2="469.88" y2="426.36" stroke="#333" stroke-width="0.7" />
<line x1="467.28" y1="441.14" x2="469.88" y2="441.14" stroke="#333" stroke-width="0.7" />
<circle cx="428.20" cy="446.27" r="2.3" fill="#c0123c"/>
<circle cx="434.93" cy="448.74" r="2.3" fill="#c0123c"/>
<circle cx="441.66" cy="443.76" r="2.3" fill="#c0123c"/>
<circle cx="455.12" cy="420.50" r="2.3" fill="#c0123c"/>
<circle cx="468.58" cy="433.75" r="2.3" fill="#c0123c"/>
<circle cx="488.77" cy="447.00" r="2.3" fill="#c0123c"/>
<text x="493.89" y="447.80" font-size="8.50" fill="#1e1e1e" textLength="25.22" lengthAdjust="spacingAndGlyphs" stroke="#1e1e1e" stroke-width="0.06" >Ter119<tspan font-size="3.8" dy="-2.6">+</tspan></text>
<circle cx="440.38" cy="339.20" r="0.8" fill="#2a2a2a"/>
<circle cx="443.58" cy="339.20" r="0.8" fill="#2a2a2a"/>
<circle cx="449.20" cy="371.00" r="0.8" fill="#2a2a2a"/>
<circle cx="452.40" cy="371.00" r="0.8" fill="#2a2a2a"/>
<circle cx="453.52" cy="401.25" r="0.8" fill="#2a2a2a"/>
<circle cx="456.72" cy="401.25" r="0.8" fill="#2a2a2a"/>
<text x="430.79" y="333.10" font-size="6.76" fill="#1e1e1e" textLength="26.11" lengthAdjust="spacingAndGlyphs" >sCFU-E</text>
<line x1="436.30" y1="335.40" x2="438.54" y2="344.28" stroke="#111" stroke-width="1.0" />
<polygon points="439.20,346.90 436.87,344.19 439.97,343.41" fill="#111"/>
<text x="472.42" y="351.20" font-size="7.92" fill="#1e1e1e" textLength="23.05" lengthAdjust="spacingAndGlyphs" stroke="#1e1e1e" stroke-width="0.02" >CFU-E</text>
<line x1="471.00" y1="351.00" x2="466.73" y2="357.18" stroke="#111" stroke-width="1.0" />
<polygon points="465.20,359.40 465.70,355.86 468.33,357.68" fill="#111"/>
<text x="492.54" y="377.30" font-size="7.63" fill="#1e1e1e" textLength="22.12" lengthAdjust="spacingAndGlyphs" stroke="#1e1e1e" stroke-width="0.01" >BFU-E</text>
<text x="398.30" y="415.61" font-size="10.10" fill="#1e1e1e" textLength="64.21" lengthAdjust="spacingAndGlyphs" transform="rotate(-90 398.30 415.61)" stroke="#1e1e1e" stroke-width="0.12">Cells/mouse ( × 10<tspan font-size="4.6" dy="-2.6">4</tspan><tspan dy="2.6">)</tspan></text>
</svg></body></html>
